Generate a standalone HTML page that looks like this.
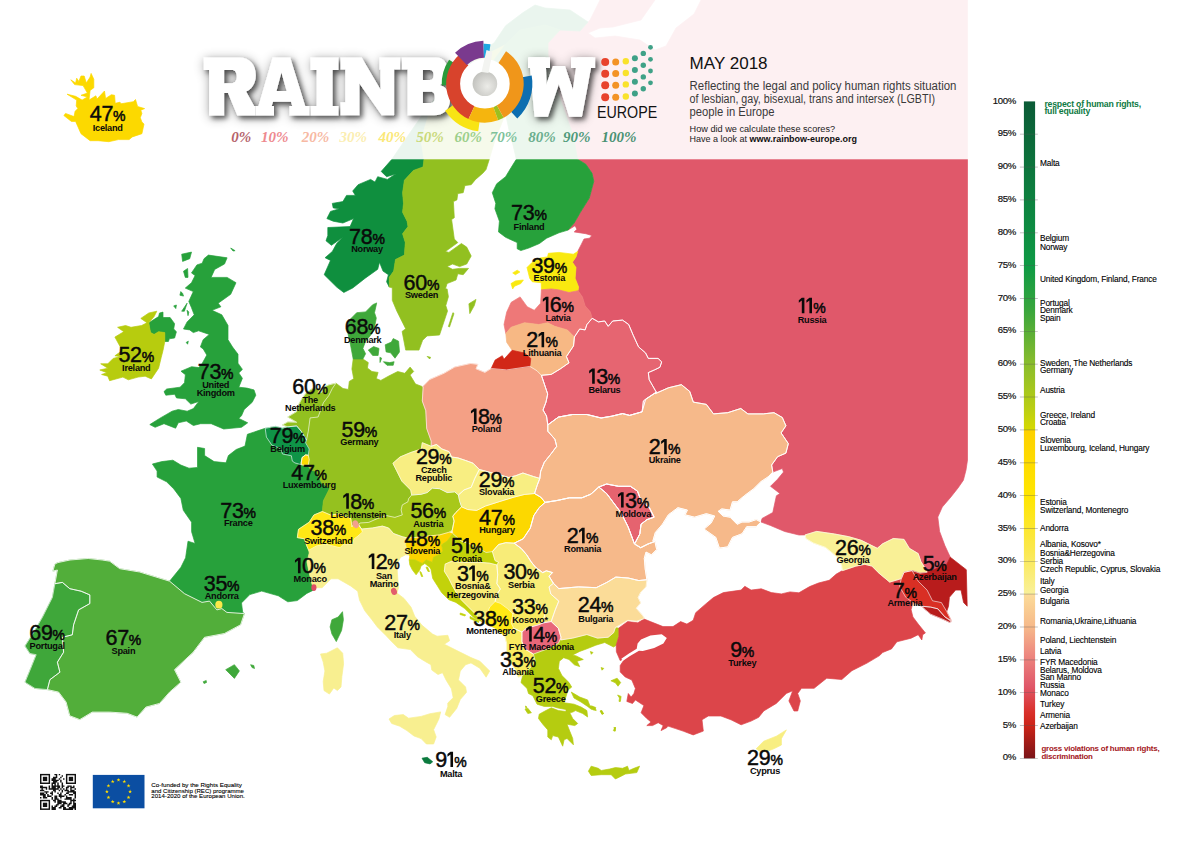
<!DOCTYPE html>
<html><head><meta charset="utf-8"><title>Rainbow Europe Map May 2018</title>
<style>
html,body{margin:0;padding:0;background:#fff}
body{width:1191px;height:842px;overflow:hidden;position:relative;font-family:"Liberation Sans",sans-serif}
svg{position:absolute;left:0;top:0;display:block}
text{font-family:"Liberation Sans",sans-serif}
.num{font-size:21.5px;fill:#0a0a0a;letter-spacing:-0.4px;stroke:#0a0a0a;stroke-width:0.45px}
.pc{font-size:14px;letter-spacing:0;stroke-width:0.5px}
.nm{font-size:9.2px;font-weight:bold;fill:#0a0a0a;letter-spacing:-0.25px}
.tk{font-size:9.6px;fill:#111;letter-spacing:-0.3px;stroke:#111;stroke-width:0.2px}
.ln{font-size:8.3px;fill:#000;letter-spacing:-0.15px;stroke:#000;stroke-width:0.12px}
.lb{font-size:7.9px;font-weight:bold;letter-spacing:-0.2px}
.sc{font-family:"Liberation Serif",serif;font-style:italic;font-weight:bold;font-size:15px}
.logo{font-family:"Liberation Serif",serif;font-weight:bold;font-size:86px;fill:#fff;stroke:#fff;stroke-width:3px;stroke-linejoin:round}
</style></head><body>
<svg width="1191" height="842" viewBox="0 0 1191 842">
<defs>
<linearGradient id="lg" x1="0" y1="0" x2="0" y2="1">
<stop offset="0" stop-color="#0b5a36"/><stop offset="0.12" stop-color="#0d7a3e"/><stop offset="0.25" stop-color="#0e9a45"/><stop offset="0.32" stop-color="#3ba63c"/><stop offset="0.40" stop-color="#8abd2c"/><stop offset="0.47" stop-color="#bccf12"/><stop offset="0.4999" stop-color="#d6d900"/>
<stop offset="0.5" stop-color="#fdd100"/><stop offset="0.6" stop-color="#ffe600"/><stop offset="0.68" stop-color="#fbe84a"/><stop offset="0.7499" stop-color="#f9f09a"/>
<stop offset="0.75" stop-color="#fcdc98"/><stop offset="0.80" stop-color="#f6b98a"/><stop offset="0.84" stop-color="#ee8a80"/><stop offset="0.89" stop-color="#e0586a"/><stop offset="0.93" stop-color="#d9302a"/><stop offset="0.95" stop-color="#cc2418"/><stop offset="1" stop-color="#7a1418"/>
</linearGradient>
<filter id="sh" x="-10%" y="-30%" width="120%" height="170%"><feGaussianBlur in="SourceAlpha" stdDeviation="6"/><feOffset dx="1" dy="1.5"/><feComponentTransfer result="a"><feFuncA type="linear" slope="0.4"/></feComponentTransfer><feGaussianBlur in="SourceAlpha" stdDeviation="2.6"/><feOffset dx="3" dy="3.2"/><feComponentTransfer result="b"><feFuncA type="linear" slope="0.55"/></feComponentTransfer><feMerge><feMergeNode in="a"/><feMergeNode in="b"/><feMergeNode in="SourceGraphic"/></feMerge></filter>
<radialGradient id="hole" cx="0.6" cy="0.6" r="0.7"><stop offset="0" stop-color="#ecece8"/><stop offset="1" stop-color="#bdbdb9"/></radialGradient>
<filter id="sh2" x="-30%" y="-30%" width="160%" height="160%"><feGaussianBlur stdDeviation="2.5"/></filter>
</defs>
<g id="map">
<polygon points="577.7,159.3 585.8,164.2 592.0,173.2 593.8,181.2 589.3,198.1 580.4,212.3 574.2,223.0 568.0,230.1 575.1,225.7 576.9,229.3 574.2,231.9 585.8,233.7 592.0,235.5 589.3,238.2 584.0,239.0 581.3,244.4 577.7,251.5 576.0,256.9 572.4,262.2 576.0,267.5 575.1,278.2 578.6,287.1 578.0,290.7 582.4,296.9 585.1,305.8 590.4,312.1 592.2,318.3 598.4,321.9 604.7,321.0 608.2,326.3 612.7,321.0 622.5,320.1 628.7,324.5 633.2,335.2 638.5,346.8 645.6,353.0 648.3,358.4 658.1,358.4 661.7,361.9 659.9,367.3 654.5,369.9 648.3,372.6 649.2,379.7 656.3,392.2 668.4,387.8 681.4,384.7 689.7,391.4 693.3,402.1 706.3,404.4 713.5,413.9 727.7,412.7 740.8,408.5 747.9,413.9 763.3,413.9 774.0,412.7 782.3,417.5 785.9,425.8 781.1,432.9 788.3,443.6 785.9,453.1 777.6,456.7 771.6,465.0 772.8,472.1 782.3,468.5 783.5,472.1 777.6,479.2 770.5,486.3 779.9,493.5 776.4,495.8 772.8,512.5 762.1,518.4 761.0,522.0 770.5,525.5 784.7,531.5 799.0,535.0 805.1,534.9 816.7,531.4 834.5,534.0 848.8,536.7 861.2,540.3 877.3,548.3 882.6,543.8 893.3,538.5 904.0,539.4 909.3,548.3 918.2,553.6 920.9,561.6 925.4,568.8 927.1,572.3 946.7,564.3 950.3,557.2 944.9,545.6 939.6,531.4 937.8,517.1 942.3,507.0 950.9,497.0 958.0,488.0 963.4,480.2 966.0,470.0 967.5,460.0 967.5,0.0 701.0,0.0 694.0,14.0 676.0,28.0 666.0,46.0 655.0,50.0 640.0,40.0 615.0,36.0 595.0,38.0 588.0,33.0 600.0,28.0 613.0,27.0 641.0,20.0 655.0,0.0 600.0,0.0 590.0,20.0 580.0,31.0 560.0,30.0 548.0,43.0 548.0,55.0 551.3,71.4 557.0,90.0 565.6,114.2 573.0,135.0" fill="#e0586a" stroke="#e0586a" stroke-width="0.7" stroke-linejoin="round"/>
<polygon points="391.9,159.3 381.2,171.4 386.6,176.7 395.5,174.0 387.5,179.4 377.7,176.7 375.0,182.1 370.6,179.4 358.1,184.7 352.7,191.0 355.4,195.4 346.5,195.4 342.9,201.6 332.3,203.4 333.2,207.9 339.4,208.8 330.5,211.4 326.9,218.6 333.2,221.2 342.9,223.0 353.6,218.6 350.1,226.6 327.8,227.5 327.8,235.5 326.0,240.8 331.4,245.3 342.9,237.3 336.7,243.5 332.3,251.5 325.1,257.7 330.5,260.4 324.2,274.7 336.7,287.1 343.8,292.5 352.7,288.0 365.2,278.2 377.7,269.3 379.5,262.2 383.0,271.1 388.4,274.7 386.6,281.8 389.3,287.1 389.3,277.3 393.7,271.1 395.5,259.5 404.4,255.1 405.3,242.6 402.6,233.7 408.0,226.6 407.1,221.2 402.6,212.3 403.5,203.4 402.6,192.7 404.4,180.3 413.3,170.5 423.1,166.9 424.0,159.3 421.0,140.0 430.0,110.0 450.0,85.0 475.0,60.0 505.0,45.0 520.0,30.0 545.0,25.0 560.0,30.0 580.0,31.0 588.0,22.0 570.0,10.0 545.0,8.0 535.0,5.0 522.7,12.8 505.6,25.7 494.2,42.8 470.0,60.0 445.0,85.0 422.8,114.2 405.0,140.0" fill="#0f8f3e" stroke="#0f8f3e" stroke-width="0.7" stroke-linejoin="round"/>
<polygon points="424.0,159.3 423.1,166.9 413.3,170.5 404.4,180.3 402.6,192.7 403.5,203.4 402.6,212.3 407.1,221.2 408.0,226.6 402.6,233.7 405.3,242.6 404.4,255.1 395.5,259.5 393.7,271.1 389.3,277.3 389.3,287.1 392.3,287.8 392.3,300.3 396.8,311.0 403.0,323.4 405.7,328.8 402.1,331.4 405.7,350.1 419.0,350.1 422.6,340.3 427.1,335.9 439.5,335.0 447.5,311.0 445.8,305.6 448.4,296.7 447.1,288.9 445.4,288.9 447.1,283.6 456.0,280.0 457.8,273.8 463.2,274.7 468.5,268.4 459.6,268.4 452.5,269.3 447.1,266.6 452.5,264.0 459.6,266.6 466.7,264.0 471.2,256.0 466.7,247.1 461.4,243.5 448.9,252.4 445.4,251.5 457.8,242.6 454.3,239.0 451.6,219.5 454.3,217.7 453.4,201.6 456.9,199.9 457.8,193.6 463.2,192.7 464.9,185.6 471.2,184.7 475.6,179.4 482.8,173.2 486.0,169.6 489.3,159.3 495.0,140.0 503.0,120.0 505.6,114.2 500.0,95.0 490.0,80.0 494.0,60.0 505.0,45.0 475.0,60.0 450.0,85.0 430.0,110.0 421.0,140.0" fill="#92c020" stroke="#92c020" stroke-width="0.7" stroke-linejoin="round"/>
<polygon points="516.3,159.3 511.0,167.8 505.6,176.7 496.7,183.8 492.3,192.7 495.8,203.4 494.9,208.8 499.4,221.2 498.5,231.9 505.6,237.3 517.2,242.6 517.2,248.8 520.8,250.6 528.8,248.0 539.5,243.5 546.6,238.2 559.0,232.8 568.0,230.1 574.2,223.0 580.4,212.3 589.3,198.1 593.8,181.2 592.0,173.2 585.8,164.2 577.7,159.3 573.0,135.0 565.6,114.2 557.0,90.0 551.3,71.4 548.0,55.0 548.0,43.0 560.0,30.0 545.0,25.0 520.0,30.0 505.0,45.0 494.0,60.0 490.0,80.0 500.0,95.0 505.6,114.2 509.0,130.0 513.0,145.0" fill="#27a13b" stroke="#27a13b" stroke-width="0.7" stroke-linejoin="round"/>
<polygon points="452.9,312.7 454.0,313.5 449.5,327.0 448.4,326.5" fill="#92c020" stroke="#92c020" stroke-width="0.7" stroke-linejoin="round"/>
<polygon points="468.9,303.8 476.0,299.4 474.3,305.6 469.8,313.6" fill="#92c020" stroke="#92c020" stroke-width="0.7" stroke-linejoin="round"/>
<polygon points="427.1,356.4 430.6,357.3 429.7,359.0" fill="#92c020" stroke="#92c020" stroke-width="0.7" stroke-linejoin="round"/>
<polygon points="67.1,94.2 75.6,96.3 82.1,100.1 87.4,96.9 81.0,95.3 87.4,93.1 83.1,85.6 74.6,84.6 70.8,79.8 75.6,83.0 76.7,78.2 78.8,81.4 81.0,76.0 84.2,76.0 86.3,83.0 90.1,77.1 91.1,73.4 93.8,79.2 93.8,87.8 90.1,90.4 89.0,100.1 95.9,95.8 97.0,99.0 104.5,91.0 105.6,98.5 111.4,94.7 114.6,95.3 115.2,103.3 120.0,102.2 121.0,103.8 133.3,101.7 135.5,99.5 137.6,106.5 144.6,108.6 140.8,110.2 141.9,113.4 140.3,117.7 141.9,122.0 144.0,124.1 141.9,133.7 132.3,136.9 129.1,139.6 118.4,139.6 108.8,141.7 98.1,140.7 90.1,140.7 81.0,133.7 75.6,121.4 71.4,121.4 63.9,115.6 65.5,113.4 74.0,116.6 75.1,111.3 77.8,108.6 76.2,105.9 76.7,100.1" fill="#fcd900" stroke="#fcd900" stroke-width="0.7" stroke-linejoin="round"/>
<polygon points="208.4,255.1 227.1,257.8 224.5,264.0 214.7,269.4 211.1,277.4 227.1,277.4 236.0,282.7 230.7,294.3 218.2,303.2 220.9,306.8 212.0,310.3 221.8,314.8 228.0,325.5 228.0,339.7 232.6,347.1 238.0,354.2 238.0,363.2 242.4,369.4 238.8,372.9 242.4,378.3 238.8,387.2 246.9,388.1 254.0,389.9 255.8,395.2 252.2,402.3 244.2,409.5 241.5,415.7 238.8,418.4 247.7,422.8 241.5,427.3 223.7,429.0 211.2,423.7 200.6,423.7 193.4,425.5 186.3,421.0 178.3,422.8 175.6,428.2 164.0,423.7 155.1,427.3 149.8,424.6 159.6,418.4 172.1,411.2 178.3,409.5 187.2,411.2 193.4,408.6 198.8,401.4 190.8,404.1 185.4,398.8 176.5,397.9 174.7,394.3 165.8,395.2 164.0,391.6 166.7,389.0 180.1,387.2 184.5,382.7 185.4,374.7 181.0,371.2 191.6,366.7 198.8,367.6 202.3,363.2 206.8,355.1 203.2,348.9 200.4,346.9 203.1,339.7 209.3,334.4 198.6,330.8 193.3,332.6 189.7,329.9 183.5,329.0 187.1,321.9 194.2,314.8 191.5,307.7 188.8,301.4 193.3,291.6 185.3,288.1 191.5,282.7 195.1,275.6 191.5,272.9 196.9,264.9 202.2,263.2 204.0,258.7" fill="#27a13b" stroke="#27a13b" stroke-width="0.7" stroke-linejoin="round"/>
<polygon points="148.8,322.8 158.6,316.6 159.5,313.0 163.0,312.1 163.0,317.5 170.1,317.5 174.6,323.7 173.7,329.0 176.4,331.7 174.6,338.0 169.3,338.8 168.4,341.5 164.8,341.5 164.8,332.6 158.6,331.7 154.1,334.4 150.6,332.6 149.7,328.2" fill="#27a13b" stroke="#27a13b" stroke-width="0.7" stroke-linejoin="round"/>
<polygon points="181.7,254.2 191.5,252.1 189.7,258.7 182.6,261.4" fill="#27a13b" stroke="#27a13b" stroke-width="0.7" stroke-linejoin="round"/>
<polygon points="183.5,271.2 187.6,268.5 188.0,277.4 185.3,277.4" fill="#27a13b" stroke="#27a13b" stroke-width="0.7" stroke-linejoin="round"/>
<polygon points="180.8,291.6 182.6,293.4 183.5,296.1 179.9,295.2" fill="#27a13b" stroke="#27a13b" stroke-width="0.7" stroke-linejoin="round"/>
<polygon points="173.7,305.9 176.4,305.0 175.8,308.6" fill="#27a13b" stroke="#27a13b" stroke-width="0.7" stroke-linejoin="round"/>
<polygon points="181.7,311.2 187.1,303.2 184.4,311.2" fill="#27a13b" stroke="#27a13b" stroke-width="0.7" stroke-linejoin="round"/>
<polygon points="187.1,310.3 188.8,312.1 188.0,315.7" fill="#27a13b" stroke="#27a13b" stroke-width="0.7" stroke-linejoin="round"/>
<polygon points="230.7,248.0 235.1,250.7 233.0,251.0" fill="#27a13b" stroke="#27a13b" stroke-width="0.7" stroke-linejoin="round"/>
<polygon points="186.2,342.4 188.3,341.2 187.6,344.2" fill="#27a13b" stroke="#27a13b" stroke-width="0.7" stroke-linejoin="round"/>
<polygon points="140.8,318.4 148.8,313.0 156.8,311.2 154.1,316.6 148.8,322.8 149.7,328.2 150.6,332.6 154.1,334.4 158.6,331.7 164.8,332.6 164.8,341.5 163.0,350.4 161.2,357.5 158.6,368.2 151.4,378.9 145.2,376.2 138.1,377.1 128.3,379.8 122.9,377.1 109.6,380.7 107.8,376.2 101.6,374.5 106.9,372.7 99.8,370.0 107.8,368.2 100.7,363.8 107.8,363.8 113.2,358.4 120.3,356.6 114.9,355.8 121.2,351.3 120.3,346.9 114.9,337.1 123.8,331.7 117.6,327.3 125.6,325.5 131.0,327.3 141.6,325.5 147.0,322.8" fill="#b7cc0e" stroke="#b7cc0e" stroke-width="0.7" stroke-linejoin="round"/>
<polygon points="152.4,464.0 161.9,461.6 172.9,460.2 180.9,465.1 189.0,468.2 197.5,467.5 197.5,447.3 204.6,448.5 204.6,455.6 214.1,461.6 226.0,462.8 228.4,455.6 236.2,449.5 245.0,446.1 247.4,434.3 265.2,428.3 266.4,434.3 266.4,437.1 271.8,445.1 280.7,448.6 282.5,454.0 291.4,455.8 292.3,461.1 294.9,462.9 301.2,464.7 306.8,465.1 311.0,470.4 316.3,471.1 321.6,482.9 329.7,488.2 327.9,491.8 323.4,500.7 322.3,511.5 313.9,515.0 309.2,522.2 298.5,529.3 297.3,537.6 304.4,538.8 306.8,545.9 308.7,550.3 309.2,553.0 307.0,562.0 309.0,572.0 311.4,582.3 313.2,587.7 313.9,589.9 306.8,593.4 297.3,600.6 287.8,601.8 278.3,595.8 261.7,591.1 249.8,594.6 241.5,602.9 242.7,612.4 244.4,613.6 226.9,612.4 221.9,608.6 216.9,609.9 209.5,601.1 202.0,602.4 184.5,593.7 169.6,581.2 180.9,567.3 185.6,557.8 188.0,541.2 195.1,543.5 191.6,531.7 191.6,522.2 183.3,510.3 180.9,498.4 173.8,488.9 166.6,481.8 157.1,477.0 157.1,471.1" fill="#27a13b" stroke="#27a13b" stroke-width="0.7" stroke-linejoin="round"/>
<polygon points="342.5,611.7 343.4,619.7 341.6,630.4 336.3,641.6 331.9,634.0 330.1,626.9 331.9,619.7 338.1,617.1" fill="#3fa83a" stroke="#3fa83a" stroke-width="0.7" stroke-linejoin="round"/>
<polygon points="57.9,562.6 70.0,560.0 88.2,558.5 102.2,560.0 109.7,561.2 119.7,568.7 139.6,572.0 169.6,581.2 184.5,593.7 202.0,602.4 209.5,601.1 216.9,609.9 221.9,608.6 226.9,612.4 244.4,613.6 240.6,624.8 224.4,633.5 204.5,637.3 193.2,652.2 174.5,669.7 180.8,682.2 169.6,692.1 159.6,703.4 145.9,707.1 137.1,717.1 127.2,713.3 109.7,712.1 92.3,712.1 79.8,719.6 69.8,715.8 66.1,702.1 58.6,692.1 47.4,689.6 49.9,679.7 59.9,672.2 57.4,662.2 63.6,652.2 62.4,637.3 72.3,634.8 73.6,624.8 78.6,609.9 89.8,603.6 89.8,594.9 81.1,591.2 69.8,588.7 62.4,582.4 54.9,583.7 57.4,570.0 52.9,571.1 54.9,564.0" fill="#52ae3a" stroke="#52ae3a" stroke-width="0.7" stroke-linejoin="round"/>
<polygon points="54.9,583.7 62.4,582.4 69.8,588.7 81.1,591.2 89.8,594.9 89.8,603.6 78.6,609.9 73.6,624.8 72.3,634.8 62.4,637.3 63.6,652.2 57.4,662.2 59.9,672.2 49.9,679.7 47.4,689.6 34.9,688.4 25.0,682.2 31.2,667.2 36.2,654.7 29.9,653.5 25.0,646.0 33.7,632.3 42.4,617.3 52.4,597.4" fill="#3fa73a" stroke="#3fa73a" stroke-width="0.7" stroke-linejoin="round"/>
<polygon points="225.7,669.7 234.4,664.7 239.4,670.9 234.4,678.4" fill="#3fa83a" stroke="#3fa83a" stroke-width="0.7" stroke-linejoin="round"/>
<polygon points="250.6,664.7 253.8,665.5 254.5,668.5 252.0,667.5" fill="#3fa83a" stroke="#3fa83a" stroke-width="0.7" stroke-linejoin="round"/>
<polygon points="203.2,681.7 206.2,680.5 206.5,682.5 204.0,683.5" fill="#3fa83a" stroke="#3fa83a" stroke-width="0.7" stroke-linejoin="round"/>
<polygon points="335.9,383.2 343.0,388.5 348.4,389.4 349.3,381.4 353.7,378.7 351.9,368.9 353.2,359.0 362.9,359.0 368.3,362.6 367.4,368.0 371.9,371.5 378.1,372.4 376.3,378.6 380.8,380.4 388.8,376.0 397.7,371.5 404.8,373.3 410.1,367.1 413.7,371.5 410.1,375.1 415.5,384.0 422.6,386.7 423.2,386.7 422.3,401.0 425.8,410.7 426.7,428.5 431.2,441.0 431.2,446.3 422.3,442.7 421.4,449.0 410.7,452.5 400.0,457.0 392.9,463.3 396.5,470.4 401.8,481.1 410.7,490.0 412.5,495.3 408.6,498.7 407.9,501.8 402.3,504.9 401.1,509.9 402.3,514.9 394.9,517.4 386.1,515.5 377.4,518.6 368.7,522.4 359.9,523.0 358.7,524.9 354.3,523.0 351.9,526.9 350.8,518.6 340.1,513.8 330.6,515.0 322.3,511.5 323.4,500.7 327.9,491.8 329.7,488.2 321.6,482.9 316.3,471.1 311.0,470.4 308.3,465.1 309.2,459.7 308.3,455.3 309.2,449.0 305.6,442.8 306.5,440.1 308.3,431.2 310.1,417.9 318.1,417.0 323.4,402.7 328.8,395.6 332.3,388.5" fill="#95c11f" stroke="#95c11f" stroke-width="0.7" stroke-linejoin="round"/>
<polygon points="282.5,425.0 287.8,422.0 296.7,422.3 287.8,417.0 296.7,411.6 299.0,404.0 302.1,398.3 307.0,392.0 312.7,388.5 320.0,389.0 318.0,393.0 322.0,392.0 324.0,387.0 328.8,384.9 335.9,383.2 332.3,388.5 328.8,395.6 323.4,402.7 318.1,417.0 310.1,417.9 308.3,431.2 306.5,440.1 301.2,431.2 296.7,425.9 287.8,426.8" fill="#92c020" stroke="#92c020" stroke-width="0.7" stroke-linejoin="round"/>
<polygon points="265.2,428.3 275.4,426.4 282.5,428.2 287.8,426.8 296.7,425.9 301.2,431.2 306.5,440.1 305.6,442.8 309.2,449.0 308.3,455.3 305.6,454.9 302.1,457.5 301.2,462.9 301.2,464.7 294.9,462.9 292.3,461.1 291.4,455.8 282.5,454.0 280.7,448.6 271.8,445.1 266.4,437.1" fill="#0f9447" stroke="#0f9447" stroke-width="0.7" stroke-linejoin="round"/>
<polygon points="302.1,457.5 305.6,454.9 308.3,455.3 309.2,459.7 308.3,465.1 304.7,465.3 301.2,464.7 301.2,462.9" fill="#fcd900" stroke="#fcd900" stroke-width="0.7" stroke-linejoin="round"/>
<polygon points="376.7,302.9 374.5,312.7 376.3,318.1 374.0,330.0 370.0,336.0 365.6,341.2 362.9,348.4 365.6,353.7 362.9,359.0 353.2,359.0 350.5,344.8 346.9,328.8 349.6,319.9 356.7,312.7 365.6,311.9 372.7,304.7" fill="#3fa83a" stroke="#3fa83a" stroke-width="0.7" stroke-linejoin="round"/>
<polygon points="368.3,350.1 373.6,346.6 379.0,348.4 378.1,355.5 372.7,355.5" fill="#3fa83a" stroke="#3fa83a" stroke-width="0.7" stroke-linejoin="round"/>
<polygon points="385.2,344.8 391.4,342.1 393.2,338.6 398.6,341.2 399.5,351.9 395.0,358.2 390.6,352.8 386.1,351.9" fill="#3fa83a" stroke="#3fa83a" stroke-width="0.7" stroke-linejoin="round"/>
<polygon points="383.4,361.7 389.7,362.6 394.1,361.7 393.2,365.3 387.0,365.3" fill="#3fa83a" stroke="#3fa83a" stroke-width="0.7" stroke-linejoin="round"/>
<polygon points="379.9,357.3 381.7,358.2 380.0,362.5" fill="#3fa83a" stroke="#3fa83a" stroke-width="0.7" stroke-linejoin="round"/>
<polygon points="422.6,386.7 429.7,379.5 444.0,373.3 454.7,367.1 470.7,363.5 477.8,364.4 476.0,368.8 484.9,372.4 491.2,368.5 506.7,369.9 529.9,366.4 537.0,370.8 541.4,375.3 547.7,394.0 546.0,402.0 543.0,410.0 546.5,416.0 547.8,424.9 547.8,431.2 554.9,439.2 556.7,446.3 551.4,453.4 544.3,462.3 540.7,471.2 539.8,478.4 533.6,476.6 522.9,473.0 515.8,475.7 508.6,477.5 499.7,474.8 489.0,472.1 479.3,469.5 473.0,463.2 465.9,460.6 457.9,457.9 451.6,457.0 449.0,451.6 441.9,449.0 436.5,444.5 431.2,446.3 431.2,441.0 426.7,428.5 425.8,410.7 422.3,401.0 423.2,386.7" fill="#f4a085" stroke="#f4a085" stroke-width="0.7" stroke-linejoin="round"/>
<polygon points="431.2,446.3 436.5,444.5 441.9,449.0 449.0,451.6 451.6,457.0 457.9,457.9 465.9,460.6 473.0,463.2 479.3,469.5 474.8,478.4 471.2,487.3 464.1,489.9 458.4,495.0 454.7,491.8 447.2,492.5 439.7,488.7 432.3,488.1 427.3,492.5 421.0,494.3 411.7,495.0 410.7,490.0 401.8,481.1 396.5,470.4 392.9,463.3 400.0,457.0 410.7,452.5 421.4,449.0 422.3,442.7" fill="#f8ee82" stroke="#f8ee82" stroke-width="0.7" stroke-linejoin="round"/>
<polygon points="479.3,469.5 489.0,472.1 499.7,474.8 508.6,477.5 515.8,475.7 522.9,473.0 533.6,476.6 539.8,478.4 537.1,485.5 534.5,493.5 524.7,494.4 514.0,497.1 499.7,501.5 485.5,506.0 476.6,510.4 467.7,509.5 461.6,506.8 459.7,501.2 458.4,495.0 464.1,489.9 471.2,487.3 474.8,478.4" fill="#f8ee82" stroke="#f8ee82" stroke-width="0.7" stroke-linejoin="round"/>
<polygon points="411.7,495.0 408.6,498.7 407.9,501.8 402.3,504.9 401.1,509.9 402.3,514.9 394.9,517.4 386.1,515.5 377.4,518.6 368.7,522.4 359.9,523.0 358.7,524.9 361.0,528.4 363.0,528.9 372.4,528.0 382.4,526.1 388.6,528.0 393.6,533.6 402.3,536.7 407.3,538.0 415.0,537.5 427.3,536.1 439.7,534.9 448.5,532.4 452.2,530.5 454.1,521.1 452.8,516.2 455.9,512.4 461.6,506.8 459.7,501.2 458.4,495.0 454.7,491.8 447.2,492.5 439.7,488.7 432.3,488.1 427.3,492.5 421.0,494.3" fill="#a8c81a" stroke="#a8c81a" stroke-width="0.7" stroke-linejoin="round"/>
<polygon points="461.6,506.8 467.7,509.5 476.6,510.4 485.5,506.0 499.7,501.5 514.0,497.1 524.7,494.4 534.5,493.5 540.7,497.1 545.1,502.4 539.2,507.6 533.8,515.6 530.3,528.1 523.2,538.8 514.2,543.2 505.8,542.7 498.6,544.5 492.4,551.6 486.2,552.5 478.0,548.0 470.0,544.0 461.2,541.0 452.8,533.6 452.2,530.5 454.1,521.1 452.8,516.2 455.9,512.4" fill="#fcd800" stroke="#fcd800" stroke-width="0.7" stroke-linejoin="round"/>
<polygon points="308.7,550.3 316.5,546.0 325.7,544.2 340.0,547.8 343.5,544.2 351.9,544.7 354.3,538.8 358.0,536.0 362.5,532.0 363.0,528.9 372.4,528.0 382.4,526.1 388.6,528.0 393.6,533.6 402.3,536.7 407.3,538.0 406.1,544.8 407.9,549.8 409.8,556.1 411.1,555.6 405.8,554.7 400.4,557.4 396.9,564.5 397.5,575.0 398.6,587.7 396.9,593.0 404.0,598.4 411.1,607.3 414.7,616.2 421.8,625.1 432.5,634.0 437.1,636.2 447.8,635.3 449.6,640.7 444.3,644.2 454.9,649.6 471.0,657.6 479.9,661.2 489.7,671.0 486.1,677.2 479.9,668.3 471.0,662.9 465.6,664.7 460.3,671.0 458.5,679.9 465.6,687.0 466.5,692.3 460.3,699.5 456.7,708.4 449.6,717.3 445.1,714.6 447.8,706.6 447.8,703.0 453.2,697.7 451.4,688.8 446.0,679.9 442.5,672.7 438.0,674.5 431.8,670.1 430.9,664.7 424.7,661.2 417.5,656.7 410.4,649.6 397.9,647.8 390.8,640.7 386.2,635.8 377.3,626.9 371.9,619.7 364.8,610.8 359.5,600.1 357.7,591.2 350.6,585.9 338.1,578.8 331.0,578.8 322.1,587.7 313.2,587.7 311.4,582.3 309.0,572.0 307.0,562.0 309.2,553.0" fill="#f8ef90" stroke="#f8ef90" stroke-width="0.7" stroke-linejoin="round"/>
<polygon points="389.0,719.0 394.4,715.5 403.3,714.6 408.6,718.2 421.1,716.4 430.0,713.7 440.7,711.9 438.9,719.0 433.6,729.7 436.2,736.9 433.6,744.0 426.4,744.0 421.1,738.6 414.0,736.0 406.9,730.6 399.7,726.2 391.7,723.5" fill="#f8ef90" stroke="#f8ef90" stroke-width="0.7" stroke-linejoin="round"/>
<polygon points="320.5,654.0 326.7,653.2 337.4,647.8 342.7,653.2 343.6,663.8 341.9,676.3 341.0,687.0 337.4,690.6 333.8,687.9 329.4,694.1 324.0,690.6 323.2,681.6 324.9,671.0 323.2,662.1" fill="#f8ef90" stroke="#f8ef90" stroke-width="0.7" stroke-linejoin="round"/>
<polygon points="322.3,511.5 313.9,515.0 309.2,522.2 298.5,529.3 297.3,537.6 304.4,538.8 306.8,545.9 308.7,550.3 316.5,546.0 325.7,544.2 340.0,547.8 343.5,544.2 351.9,544.7 354.3,538.8 358.0,536.0 362.5,532.0 361.0,528.4 358.7,524.9 354.3,523.0 351.9,526.9 350.8,518.6 340.1,513.8 330.6,515.0" fill="#ffe815" stroke="#ffe815" stroke-width="0.7" stroke-linejoin="round"/>
<polygon points="407.3,538.0 415.0,537.5 427.3,536.1 439.7,534.9 448.5,532.4 452.8,533.6 447.2,541.1 441.6,544.8 442.9,551.1 438.5,554.8 433.5,557.3 432.3,562.3 426.0,559.8 422.3,563.5 414.8,559.8 409.2,559.8 409.8,556.1 407.9,549.8 406.1,544.8" fill="#fcd400" stroke="#fcd400" stroke-width="0.7" stroke-linejoin="round"/>
<polygon points="452.8,533.6 461.2,541.0 470.0,544.0 478.0,548.0 486.2,552.5 492.4,551.6 495.1,560.6 498.6,562.3 496.9,565.0 489.7,563.2 479.0,562.3 465.0,562.5 451.4,561.4 445.2,564.1 444.3,571.2 448.8,578.4 452.3,585.5 456.0,592.0 461.2,599.7 468.4,606.9 475.5,614.0 484.4,622.9 473.7,617.5 464.8,608.6 455.9,602.4 448.8,599.7 441.6,592.6 437.2,585.5 432.7,578.4 431.0,569.5 429.8,567.3 424.8,563.5 421.0,566.0 419.8,569.8 416.1,574.8 412.3,569.8 409.8,564.8 409.2,559.8 414.8,559.8 422.3,563.5 426.0,559.8 432.3,562.3 433.5,557.3 438.5,554.8 442.9,551.1 441.6,544.8 447.2,541.1" fill="#c3d20a" stroke="#c3d20a" stroke-width="0.7" stroke-linejoin="round"/>
<polygon points="419.8,571.6 421.0,572.0 422.8,576.5 421.5,576.5" fill="#c3d20a" stroke="#c3d20a" stroke-width="0.7" stroke-linejoin="round"/>
<polygon points="426.0,567.3 427.5,567.0 429.5,571.5 428.0,571.5" fill="#c3d20a" stroke="#c3d20a" stroke-width="0.7" stroke-linejoin="round"/>
<polygon points="460.3,613.0 465.5,614.8 465.0,616.0 460.0,614.5" fill="#c3d20a" stroke="#c3d20a" stroke-width="0.7" stroke-linejoin="round"/>
<polygon points="470.0,616.5 479.0,621.0 478.5,622.5 470.0,618.5" fill="#c3d20a" stroke="#c3d20a" stroke-width="0.7" stroke-linejoin="round"/>
<polygon points="445.2,564.1 451.4,561.4 465.0,562.5 479.0,562.3 489.7,563.2 496.9,565.0 497.7,574.8 496.9,583.7 500.4,589.0 496.9,594.4 495.1,601.5 489.7,606.9 486.2,615.8 484.4,622.9 475.5,614.0 468.4,606.9 461.2,599.7 456.0,592.0 452.3,585.5 448.8,578.4 444.3,571.2" fill="#f8ec78" stroke="#f8ec78" stroke-width="0.7" stroke-linejoin="round"/>
<polygon points="492.4,551.6 498.6,544.5 505.8,542.7 514.2,543.2 521.4,548.6 526.7,554.8 531.2,561.9 535.6,567.3 542.7,572.6 546.3,570.8 552.5,572.6 549.0,576.2 553.4,583.3 549.0,586.9 550.8,594.0 558.8,601.1 555.2,610.0 551.2,621.5 543.2,622.9 544.9,614.0 539.6,605.1 528.9,599.7 518.2,603.3 512.9,614.0 507.5,608.6 500.4,603.3 495.1,601.5 496.9,594.4 500.4,589.0 496.9,583.7 497.7,574.8 496.9,565.0 498.6,562.3 495.1,560.6" fill="#f8ec78" stroke="#f8ec78" stroke-width="0.7" stroke-linejoin="round"/>
<polygon points="512.9,614.0 518.2,603.3 528.9,599.7 539.6,605.1 544.9,614.0 543.2,622.9 538.8,624.7 526.3,628.3 521.9,632.0 513.8,628.3 511.1,622.9" fill="#f9ea60" stroke="#f9ea60" stroke-width="0.7" stroke-linejoin="round"/>
<polygon points="495.1,601.5 500.4,603.3 507.5,608.6 512.9,614.0 511.1,622.9 513.8,628.3 506.7,632.7 504.0,635.4 495.1,628.2 484.4,622.9 486.2,615.8 489.7,606.9" fill="#ffe815" stroke="#ffe815" stroke-width="0.7" stroke-linejoin="round"/>
<polygon points="521.9,636.3 521.9,632.0 526.3,628.3 538.8,624.7 543.2,622.9 551.2,621.5 558.4,628.3 561.0,637.2 558.4,643.4 547.7,648.8 533.4,654.1 524.5,648.8 521.9,641.6" fill="#e8677a" stroke="#e8677a" stroke-width="0.7" stroke-linejoin="round"/>
<polygon points="506.7,632.7 513.8,628.3 521.9,632.0 521.9,636.3 521.9,641.6 524.5,648.8 533.4,654.1 535.2,661.2 529.9,668.4 522.7,675.5 518.3,677.3 515.6,670.1 509.4,661.2 506.7,652.3 506.7,643.4 504.9,636.3 504.0,635.4" fill="#f9ea60" stroke="#f9ea60" stroke-width="0.7" stroke-linejoin="round"/>
<polygon points="533.4,654.1 547.7,648.8 558.4,643.4 561.0,639.9 572.6,638.1 586.9,634.5 597.5,638.1 608.2,637.2 613.6,632.7 615.4,627.4 618.9,628.3 618.9,636.3 616.2,645.2 613.6,647.0 604.7,642.5 595.8,645.2 586.9,648.8 579.7,651.4 572.6,655.0 576.2,655.9 583.3,659.5 577.1,661.2 579.7,666.6 574.4,664.8 569.0,659.5 563.7,657.7 559.3,661.2 558.4,668.4 561.9,675.5 569.0,682.6 571.7,687.1 568.0,690.0 564.1,702.8 574.1,704.2 581.2,707.1 586.9,710.6 587.6,717.0 582.7,713.5 575.5,710.6 572.7,712.1 569.8,712.8 572.7,718.5 577.7,723.5 574.8,725.6 567.0,724.2 569.8,731.3 572.7,738.4 573.4,744.8 567.0,738.4 564.1,739.8 562.7,746.2 558.4,737.0 552.7,735.6 551.3,739.8 547.8,737.0 547.8,729.9 542.8,724.2 538.5,718.5 539.2,714.2 545.0,711.0 551.3,707.8 558.4,710.6 566.0,711.5 566.0,709.5 558.0,708.0 552.7,706.4 544.2,706.4 537.1,704.2 532.8,695.7 528.5,693.5 527.1,688.5 521.0,682.6 522.7,675.5 529.9,668.4 535.2,661.2" fill="#b5cc10" stroke="#b5cc10" stroke-width="0.7" stroke-linejoin="round"/>
<polygon points="571.3,692.1 579.8,697.1 587.6,699.9 589.8,705.6 595.5,708.5 596.2,710.6 591.2,709.2 587.6,706.4 581.0,702.0 574.0,698.0" fill="#b5cc10" stroke="#b5cc10" stroke-width="0.7" stroke-linejoin="round"/>
<polygon points="525.0,709.2 527.8,708.2 531.4,712.8 527.8,713.5" fill="#b5cc10" stroke="#b5cc10" stroke-width="0.7" stroke-linejoin="round"/>
<polygon points="600.5,710.6 602.0,710.6 603.3,713.5 602.0,714.5" fill="#b5cc10" stroke="#b5cc10" stroke-width="0.7" stroke-linejoin="round"/>
<polygon points="613.3,730.6 615.4,727.0 615.1,731.3" fill="#b5cc10" stroke="#b5cc10" stroke-width="0.7" stroke-linejoin="round"/>
<polygon points="610.9,680.8 617.1,678.2 620.7,682.6 618.0,686.2 615.4,682.8" fill="#b5cc10" stroke="#b5cc10" stroke-width="0.7" stroke-linejoin="round"/>
<polygon points="617.6,695.0 621.1,696.4 620.4,701.4 619.0,701.4 619.5,698.0" fill="#b5cc10" stroke="#b5cc10" stroke-width="0.7" stroke-linejoin="round"/>
<polygon points="590.4,651.5 593.0,652.5 591.3,654.3" fill="#b5cc10" stroke="#b5cc10" stroke-width="0.7" stroke-linejoin="round"/>
<polygon points="601.1,667.5 603.8,668.4 602.0,670.2" fill="#b5cc10" stroke="#b5cc10" stroke-width="0.7" stroke-linejoin="round"/>
<polygon points="591.3,705.8 595.8,707.5 594.0,710.2" fill="#b5cc10" stroke="#b5cc10" stroke-width="0.7" stroke-linejoin="round"/>
<polygon points="588.4,771.2 591.2,766.2 598.3,768.3 601.2,770.5 609.7,769.0 615.4,767.6 622.6,768.3 627.5,766.2 629.0,770.5 633.9,768.3 639.6,766.2 636.8,772.6 631.1,773.3 625.4,774.0 619.7,776.9 615.4,779.0 611.2,774.7 601.2,774.7 591.2,775.5" fill="#b5cc10" stroke="#b5cc10" stroke-width="0.7" stroke-linejoin="round"/>
<polygon points="525.4,706.0 527.0,707.0 526.0,708.5" fill="#b5cc10" stroke="#b5cc10" stroke-width="0.7" stroke-linejoin="round"/>
<polygon points="600.0,711.0 603.8,713.5 602.0,714.0" fill="#b5cc10" stroke="#b5cc10" stroke-width="0.7" stroke-linejoin="round"/>
<polygon points="613.9,727.4 615.5,727.8 615.0,731.0" fill="#b5cc10" stroke="#b5cc10" stroke-width="0.7" stroke-linejoin="round"/>
<polygon points="553.4,583.3 558.8,588.6 578.4,586.9 596.2,587.7 606.9,582.4 615.8,577.1 628.2,578.0 638.9,580.6 646.9,579.7 646.0,586.9 640.7,592.2 638.0,597.5 640.7,602.9 636.2,608.2 642.5,615.4 644.5,618.5 636.7,621.2 627.8,620.3 618.9,625.6 615.4,627.4 613.6,632.7 608.2,637.2 597.5,638.1 586.9,634.5 572.6,638.1 561.0,639.9 561.0,637.2 558.4,628.3 551.2,621.5 555.2,610.0 558.8,601.1 550.8,594.0 549.0,586.9" fill="#fbdc98" stroke="#fbdc98" stroke-width="0.7" stroke-linejoin="round"/>
<polygon points="545.1,502.4 557.0,500.5 569.5,497.8 581.9,497.8 590.8,494.2 598.8,487.0 606.6,493.5 613.7,503.0 620.9,512.5 628.0,526.7 631.6,536.2 634.5,544.0 640.7,547.7 647.8,544.1 654.9,541.4 656.7,549.5 651.4,554.8 646.0,552.1 644.3,558.4 645.2,569.0 646.9,579.7 638.9,580.6 628.2,578.0 615.8,577.1 606.9,582.4 596.2,587.7 578.4,586.9 558.8,588.6 553.4,583.3 549.0,576.2 552.5,572.6 546.3,570.8 542.7,572.6 535.6,567.3 531.2,561.9 526.7,554.8 521.4,548.6 514.2,543.2 523.2,538.8 530.3,528.1 533.8,515.6 539.2,507.6" fill="#f6b98a" stroke="#f6b98a" stroke-width="0.7" stroke-linejoin="round"/>
<polygon points="547.8,424.9 558.4,417.1 572.6,414.5 586.9,414.5 601.1,418.0 611.8,416.2 622.5,413.6 629.6,415.4 642.1,411.8 643.4,400.9 645.6,399.3 656.3,392.2 655.3,393.7 668.4,387.8 681.4,384.7 689.7,391.4 693.3,402.1 706.3,404.4 713.5,413.9 727.7,412.7 740.8,408.5 747.9,413.9 763.3,413.9 774.0,412.7 782.3,417.5 785.9,425.8 781.1,432.9 788.3,443.6 785.9,453.1 777.6,456.7 771.6,465.0 772.8,472.1 768.1,476.9 761.0,481.6 753.8,488.7 744.3,495.8 737.2,501.8 732.5,501.8 730.1,510.1 721.8,508.9 718.2,511.3 723.0,516.0 730.1,517.2 737.2,524.3 742.0,522.0 749.1,522.0 756.2,519.6 761.0,522.0 756.2,526.7 746.7,526.7 742.0,533.8 732.5,537.4 727.7,546.9 719.4,548.1 715.8,537.4 704.0,529.1 711.1,523.1 714.7,516.0 706.3,513.7 694.5,517.2 685.0,514.8 687.4,510.1 677.9,507.7 668.4,514.8 662.4,524.3 655.3,532.6 652.9,541.0 654.9,541.4 647.8,544.1 640.7,547.7 634.5,544.0 639.9,533.8 641.0,524.3 647.0,519.6 654.1,517.2 649.4,507.7 641.0,500.6 637.5,491.1 630.4,486.3 618.5,486.3 606.6,484.0 598.8,487.0 590.8,494.2 581.9,497.8 569.5,497.8 557.0,500.5 545.1,502.4 540.7,497.1 534.5,493.5 537.1,485.5 539.8,478.4 540.7,471.2 544.3,462.3 551.4,453.4 556.7,446.3 554.9,439.2 547.8,431.2" fill="#f6b98a" stroke="#f6b98a" stroke-width="0.7" stroke-linejoin="round"/>
<polygon points="598.8,487.0 606.6,484.0 618.5,486.3 630.4,486.3 637.5,491.1 641.0,500.6 649.4,507.7 654.1,517.2 647.0,519.6 641.0,524.3 639.9,533.8 634.5,544.0 631.6,536.2 628.0,526.7 620.9,512.5 613.7,503.0 606.6,493.5" fill="#e5636f" stroke="#e5636f" stroke-width="0.7" stroke-linejoin="round"/>
<polygon points="574.4,337.0 579.7,329.0 585.1,329.9 586.9,324.5 592.2,318.3 598.4,321.9 604.7,321.0 608.2,326.3 612.7,321.0 622.5,320.1 628.7,324.5 633.2,335.2 638.5,346.8 645.6,353.0 648.3,358.4 658.1,358.4 661.7,361.9 659.9,367.3 654.5,369.9 648.3,372.6 649.2,379.7 656.3,392.2 645.6,399.3 642.1,411.8 629.6,415.4 622.5,413.6 611.8,416.2 601.1,418.0 586.9,414.5 572.6,414.5 558.4,417.1 547.8,424.9 546.5,416.0 543.0,410.0 546.0,402.0 547.7,394.0 541.4,375.3 551.2,374.4 560.1,369.0 569.0,362.8 566.4,356.6 573.5,345.9" fill="#e66571" stroke="#e66571" stroke-width="0.7" stroke-linejoin="round"/>
<polygon points="577.7,251.5 573.3,254.2 559.0,252.4 548.4,253.3 547.5,256.9 540.0,258.0 532.3,262.2 527.0,267.5 529.7,278.2 532.3,281.8 541.2,282.7 541.4,289.8 551.2,288.9 558.4,289.8 569.0,292.5 578.0,290.7 578.6,287.1 575.1,278.2 576.0,267.5 572.4,262.2 576.0,256.9" fill="#f9e910" stroke="#f9e910" stroke-width="0.7" stroke-linejoin="round"/>
<polygon points="512.7,272.9 517.2,270.2 519.9,272.0 515.4,274.7" fill="#f9e910" stroke="#f9e910" stroke-width="0.7" stroke-linejoin="round"/>
<polygon points="511.0,283.6 515.4,280.9 523.4,280.0 520.8,283.6 514.5,286.2 512.7,288.9" fill="#f9e910" stroke="#f9e910" stroke-width="0.7" stroke-linejoin="round"/>
<polygon points="541.4,289.8 540.6,303.2 534.3,310.3 527.2,306.7 520.1,296.9 511.2,302.3 506.7,312.1 504.0,324.5 505.8,333.4 511.2,327.2 524.5,322.7 538.8,324.5 547.7,322.7 554.8,326.3 567.3,329.9 574.4,337.0 579.7,329.0 585.1,329.9 586.9,324.5 592.2,318.3 590.4,312.1 585.1,305.8 582.4,296.9 578.0,290.7 569.0,292.5 558.4,289.8 551.2,288.9" fill="#ee7878" stroke="#ee7878" stroke-width="0.7" stroke-linejoin="round"/>
<polygon points="505.8,333.4 506.7,342.3 512.1,350.3 524.5,353.0 530.8,358.4 529.9,366.4 537.0,370.8 541.4,375.3 551.2,374.4 560.1,369.0 569.0,362.8 566.4,356.6 573.5,345.9 574.4,337.0 567.3,329.9 554.8,326.3 547.7,322.7 538.8,324.5 524.5,322.7 511.2,327.2" fill="#f7b884" stroke="#f7b884" stroke-width="0.7" stroke-linejoin="round"/>
<polygon points="512.1,350.3 504.0,359.2 502.3,355.7 495.1,360.1 491.2,368.5 506.7,369.9 529.9,366.4 530.8,358.4 524.5,353.0" fill="#d12717" stroke="#d12717" stroke-width="0.7" stroke-linejoin="round"/>
<polygon points="618.9,627.9 627.7,621.6 637.8,622.8 644.1,619.0 650.4,621.6 663.0,626.6 673.0,626.6 680.6,621.6 686.9,624.1 693.2,620.3 695.7,612.7 705.8,603.9 713.4,597.6 723.4,592.6 741.1,590.1 744.8,586.3 751.1,590.1 761.2,588.8 771.3,592.6 781.4,593.9 790.0,591.9 798.9,592.8 809.6,586.6 818.5,583.0 829.2,580.3 836.3,574.1 842.5,570.6 855.9,566.1 864.8,564.3 871.9,566.1 879.0,573.2 889.7,582.1 901.3,578.6 899.5,586.6 905.8,597.3 912.9,602.6 911.1,609.7 912.9,616.9 918.2,624.0 925.4,632.9 922.7,634.7 921.8,640.0 918.2,634.7 911.1,638.2 896.9,641.8 891.5,648.9 882.6,652.5 879.6,655.6 867.0,663.1 851.9,670.7 841.8,679.5 826.7,678.2 814.1,688.3 801.5,688.3 797.7,693.4 800.3,700.9 797.7,711.0 794.0,711.0 788.9,700.9 792.7,690.8 786.4,693.4 776.3,703.4 763.7,711.0 758.7,717.3 751.1,721.1 741.1,724.8 731.0,719.8 720.9,716.0 708.3,716.0 702.0,719.8 703.3,731.1 693.2,734.9 683.1,731.1 675.6,728.6 668.0,726.1 666.7,727.7 661.0,730.6 663.2,725.6 658.2,722.7 652.5,725.6 646.8,725.6 651.0,722.0 646.8,718.5 641.1,712.8 643.9,705.6 635.4,699.9 632.5,703.5 626.8,701.4 628.3,693.5 631.1,697.1 633.9,693.5 635.4,688.5 631.8,680.0 625.2,677.0 620.2,671.9 620.2,665.6 625.2,658.1 620.2,660.6 616.4,651.8 616.2,645.2 618.9,636.3" fill="#dc454a" stroke="#dc454a" stroke-width="0.7" stroke-linejoin="round"/>
<polygon points="637.6,643.4 641.0,639.5 650.4,635.4 661.7,634.3 666.8,638.0 663.4,643.4 654.2,648.0 642.8,651.0 639.0,650.8 630.0,656.0 623.0,660.8 621.3,658.8 629.0,653.5 636.7,648.8" fill="#fff"/>
<polygon points="756.2,748.8 763.7,741.2 776.3,736.2 786.4,729.9 781.4,738.7 781.4,745.0 773.8,748.8 766.2,751.8 760.0,751.5" fill="#f8ee82" stroke="#f8ee82" stroke-width="0.7" stroke-linejoin="round"/>
<polygon points="805.1,534.9 816.7,531.4 834.5,534.0 848.8,536.7 861.2,540.3 877.3,548.3 882.6,543.8 893.3,538.5 904.0,539.4 909.3,548.3 918.2,553.6 920.9,561.6 925.4,568.8 927.1,572.3 920.0,573.2 912.0,570.6 904.0,572.3 901.3,578.6 889.7,582.1 879.0,573.2 871.9,566.1 864.8,564.3 855.9,566.1 842.5,570.6 841.6,565.2 836.3,556.3 825.6,547.4 813.2,542.9 806.0,538.5" fill="#f9f096" stroke="#f9f096" stroke-width="0.7" stroke-linejoin="round"/>
<polygon points="912.0,570.6 918.2,581.2 927.1,590.1 932.5,600.8 941.4,602.6 946.7,611.5 951.2,620.4 944.9,616.9 937.8,608.8 930.7,607.1 921.8,606.2 912.9,602.6 905.8,597.3 899.5,586.6 901.3,578.6 904.0,572.3" fill="#d92f24" stroke="#d92f24" stroke-width="0.7" stroke-linejoin="round"/>
<polygon points="946.7,564.3 950.3,557.2 966.3,569.7 967.2,606.2 963.6,602.6 961.0,590.1 955.6,590.1 949.4,597.3 948.5,606.2 946.7,611.5 941.4,602.6 932.5,600.8 927.1,590.1 918.2,581.2 912.0,570.6 920.0,573.2 927.1,572.3" fill="#b81c1c" stroke="#b81c1c" stroke-width="0.7" stroke-linejoin="round"/>
<polygon points="921.8,606.2 930.7,607.1 937.8,608.8 944.9,616.9 951.2,621.5 949.4,622.3 941.4,618.6 930.7,614.2 925.4,609.7" fill="#b81c1c" stroke="#b81c1c" stroke-width="0.7" stroke-linejoin="round"/>
<polygon points="422.0,758.2 427.3,757.3 432.7,761.8 430.0,763.9 424.7,762.7" fill="#0b7a3e" stroke="#0b7a3e" stroke-width="0.7" stroke-linejoin="round"/>
<polygon points="54.9,583.7 62.4,582.4 69.8,588.7 81.1,591.2 89.8,594.9 89.8,603.6 78.6,609.9 73.6,624.8 72.3,634.8 62.4,637.3 63.6,652.2 57.4,662.2 59.9,672.2 49.9,679.7 47.4,689.6 34.9,688.4 25.0,682.2 31.2,667.2 36.2,654.7 29.9,653.5 25.0,646.0 33.7,632.3 42.4,617.3 52.4,597.4" fill="none" stroke="#fff" stroke-width="0.6" stroke-linejoin="round"/>
<polygon points="265.2,428.3 275.4,426.4 282.5,428.2 287.8,426.8 296.7,425.9 301.2,431.2 306.5,440.1 305.6,442.8 309.2,449.0 308.3,455.3 305.6,454.9 302.1,457.5 301.2,462.9 301.2,464.7 294.9,462.9 292.3,461.1 291.4,455.8 282.5,454.0 280.7,448.6 271.8,445.1 266.4,437.1" fill="none" stroke="#fff" stroke-width="0.6" stroke-linejoin="round"/>
<polygon points="282.5,425.0 287.8,422.0 296.7,422.3 287.8,417.0 296.7,411.6 299.0,404.0 302.1,398.3 307.0,392.0 312.7,388.5 320.0,389.0 318.0,393.0 322.0,392.0 324.0,387.0 328.8,384.9 335.9,383.2 332.3,388.5 328.8,395.6 323.4,402.7 318.1,417.0 310.1,417.9 308.3,431.2 306.5,440.1 301.2,431.2 296.7,425.9 287.8,426.8" fill="none" stroke="#fff" stroke-width="0.6" stroke-linejoin="round"/>
<polygon points="574.4,337.0 579.7,329.0 585.1,329.9 586.9,324.5 592.2,318.3 598.4,321.9 604.7,321.0 608.2,326.3 612.7,321.0 622.5,320.1 628.7,324.5 633.2,335.2 638.5,346.8 645.6,353.0 648.3,358.4 658.1,358.4 661.7,361.9 659.9,367.3 654.5,369.9 648.3,372.6 649.2,379.7 656.3,392.2 645.6,399.3 642.1,411.8 629.6,415.4 622.5,413.6 611.8,416.2 601.1,418.0 586.9,414.5 572.6,414.5 558.4,417.1 547.8,424.9 546.5,416.0 543.0,410.0 546.0,402.0 547.7,394.0 541.4,375.3 551.2,374.4 560.1,369.0 569.0,362.8 566.4,356.6 573.5,345.9" fill="none" stroke="#fff" stroke-width="0.6" stroke-linejoin="round"/>
<polygon points="547.8,424.9 558.4,417.1 572.6,414.5 586.9,414.5 601.1,418.0 611.8,416.2 622.5,413.6 629.6,415.4 642.1,411.8 643.4,400.9 645.6,399.3 656.3,392.2 655.3,393.7 668.4,387.8 681.4,384.7 689.7,391.4 693.3,402.1 706.3,404.4 713.5,413.9 727.7,412.7 740.8,408.5 747.9,413.9 763.3,413.9 774.0,412.7 782.3,417.5 785.9,425.8 781.1,432.9 788.3,443.6 785.9,453.1 777.6,456.7 771.6,465.0 772.8,472.1 768.1,476.9 761.0,481.6 753.8,488.7 744.3,495.8 737.2,501.8 732.5,501.8 730.1,510.1 721.8,508.9 718.2,511.3 723.0,516.0 730.1,517.2 737.2,524.3 742.0,522.0 749.1,522.0 756.2,519.6 761.0,522.0 756.2,526.7 746.7,526.7 742.0,533.8 732.5,537.4 727.7,546.9 719.4,548.1 715.8,537.4 704.0,529.1 711.1,523.1 714.7,516.0 706.3,513.7 694.5,517.2 685.0,514.8 687.4,510.1 677.9,507.7 668.4,514.8 662.4,524.3 655.3,532.6 652.9,541.0 654.9,541.4 647.8,544.1 640.7,547.7 634.5,544.0 639.9,533.8 641.0,524.3 647.0,519.6 654.1,517.2 649.4,507.7 641.0,500.6 637.5,491.1 630.4,486.3 618.5,486.3 606.6,484.0 598.8,487.0 590.8,494.2 581.9,497.8 569.5,497.8 557.0,500.5 545.1,502.4 540.7,497.1 534.5,493.5 537.1,485.5 539.8,478.4 540.7,471.2 544.3,462.3 551.4,453.4 556.7,446.3 554.9,439.2 547.8,431.2" fill="none" stroke="#fff" stroke-width="0.6" stroke-linejoin="round"/>
<polygon points="598.8,487.0 606.6,484.0 618.5,486.3 630.4,486.3 637.5,491.1 641.0,500.6 649.4,507.7 654.1,517.2 647.0,519.6 641.0,524.3 639.9,533.8 634.5,544.0 631.6,536.2 628.0,526.7 620.9,512.5 613.7,503.0 606.6,493.5" fill="none" stroke="#fff" stroke-width="0.6" stroke-linejoin="round"/>
<polygon points="545.1,502.4 557.0,500.5 569.5,497.8 581.9,497.8 590.8,494.2 598.8,487.0 606.6,493.5 613.7,503.0 620.9,512.5 628.0,526.7 631.6,536.2 634.5,544.0 640.7,547.7 647.8,544.1 654.9,541.4 656.7,549.5 651.4,554.8 646.0,552.1 644.3,558.4 645.2,569.0 646.9,579.7 638.9,580.6 628.2,578.0 615.8,577.1 606.9,582.4 596.2,587.7 578.4,586.9 558.8,588.6 553.4,583.3 549.0,576.2 552.5,572.6 546.3,570.8 542.7,572.6 535.6,567.3 531.2,561.9 526.7,554.8 521.4,548.6 514.2,543.2 523.2,538.8 530.3,528.1 533.8,515.6 539.2,507.6" fill="none" stroke="#fff" stroke-width="0.6" stroke-linejoin="round"/>
<polygon points="461.6,506.8 467.7,509.5 476.6,510.4 485.5,506.0 499.7,501.5 514.0,497.1 524.7,494.4 534.5,493.5 540.7,497.1 545.1,502.4 539.2,507.6 533.8,515.6 530.3,528.1 523.2,538.8 514.2,543.2 505.8,542.7 498.6,544.5 492.4,551.6 486.2,552.5 478.0,548.0 470.0,544.0 461.2,541.0 452.8,533.6 452.2,530.5 454.1,521.1 452.8,516.2 455.9,512.4" fill="none" stroke="#fff" stroke-width="0.6" stroke-linejoin="round"/>
<polygon points="431.2,446.3 436.5,444.5 441.9,449.0 449.0,451.6 451.6,457.0 457.9,457.9 465.9,460.6 473.0,463.2 479.3,469.5 474.8,478.4 471.2,487.3 464.1,489.9 458.4,495.0 454.7,491.8 447.2,492.5 439.7,488.7 432.3,488.1 427.3,492.5 421.0,494.3 411.7,495.0 410.7,490.0 401.8,481.1 396.5,470.4 392.9,463.3 400.0,457.0 410.7,452.5 421.4,449.0 422.3,442.7" fill="none" stroke="#fff" stroke-width="0.6" stroke-linejoin="round"/>
<polygon points="479.3,469.5 489.0,472.1 499.7,474.8 508.6,477.5 515.8,475.7 522.9,473.0 533.6,476.6 539.8,478.4 537.1,485.5 534.5,493.5 524.7,494.4 514.0,497.1 499.7,501.5 485.5,506.0 476.6,510.4 467.7,509.5 461.6,506.8 459.7,501.2 458.4,495.0 464.1,489.9 471.2,487.3 474.8,478.4" fill="none" stroke="#fff" stroke-width="0.6" stroke-linejoin="round"/>
<polygon points="422.6,386.7 429.7,379.5 444.0,373.3 454.7,367.1 470.7,363.5 477.8,364.4 476.0,368.8 484.9,372.4 491.2,368.5 506.7,369.9 529.9,366.4 537.0,370.8 541.4,375.3 547.7,394.0 546.0,402.0 543.0,410.0 546.5,416.0 547.8,424.9 547.8,431.2 554.9,439.2 556.7,446.3 551.4,453.4 544.3,462.3 540.7,471.2 539.8,478.4 533.6,476.6 522.9,473.0 515.8,475.7 508.6,477.5 499.7,474.8 489.0,472.1 479.3,469.5 473.0,463.2 465.9,460.6 457.9,457.9 451.6,457.0 449.0,451.6 441.9,449.0 436.5,444.5 431.2,446.3 431.2,441.0 426.7,428.5 425.8,410.7 422.3,401.0 423.2,386.7" fill="none" stroke="#fff" stroke-width="0.6" stroke-linejoin="round"/>
<polygon points="912.0,570.6 918.2,581.2 927.1,590.1 932.5,600.8 941.4,602.6 946.7,611.5 951.2,620.4 944.9,616.9 937.8,608.8 930.7,607.1 921.8,606.2 912.9,602.6 905.8,597.3 899.5,586.6 901.3,578.6 904.0,572.3" fill="none" stroke="#fff" stroke-width="0.6" stroke-linejoin="round"/>
<polygon points="805.1,534.9 816.7,531.4 834.5,534.0 848.8,536.7 861.2,540.3 877.3,548.3 882.6,543.8 893.3,538.5 904.0,539.4 909.3,548.3 918.2,553.6 920.9,561.6 925.4,568.8 927.1,572.3 920.0,573.2 912.0,570.6 904.0,572.3 901.3,578.6 889.7,582.1 879.0,573.2 871.9,566.1 864.8,564.3 855.9,566.1 842.5,570.6 841.6,565.2 836.3,556.3 825.6,547.4 813.2,542.9 806.0,538.5" fill="none" stroke="#fff" stroke-width="0.6" stroke-linejoin="round"/>
<polygon points="553.4,583.3 558.8,588.6 578.4,586.9 596.2,587.7 606.9,582.4 615.8,577.1 628.2,578.0 638.9,580.6 646.9,579.7 646.0,586.9 640.7,592.2 638.0,597.5 640.7,602.9 636.2,608.2 642.5,615.4 644.5,618.5 636.7,621.2 627.8,620.3 618.9,625.6 615.4,627.4 613.6,632.7 608.2,637.2 597.5,638.1 586.9,634.5 572.6,638.1 561.0,639.9 561.0,637.2 558.4,628.3 551.2,621.5 555.2,610.0 558.8,601.1 550.8,594.0 549.0,586.9" fill="none" stroke="#fff" stroke-width="0.6" stroke-linejoin="round"/>
<polygon points="492.4,551.6 498.6,544.5 505.8,542.7 514.2,543.2 521.4,548.6 526.7,554.8 531.2,561.9 535.6,567.3 542.7,572.6 546.3,570.8 552.5,572.6 549.0,576.2 553.4,583.3 549.0,586.9 550.8,594.0 558.8,601.1 555.2,610.0 551.2,621.5 543.2,622.9 544.9,614.0 539.6,605.1 528.9,599.7 518.2,603.3 512.9,614.0 507.5,608.6 500.4,603.3 495.1,601.5 496.9,594.4 500.4,589.0 496.9,583.7 497.7,574.8 496.9,565.0 498.6,562.3 495.1,560.6" fill="none" stroke="#fff" stroke-width="0.6" stroke-linejoin="round"/>
<polygon points="445.2,564.1 451.4,561.4 465.0,562.5 479.0,562.3 489.7,563.2 496.9,565.0 497.7,574.8 496.9,583.7 500.4,589.0 496.9,594.4 495.1,601.5 489.7,606.9 486.2,615.8 484.4,622.9 475.5,614.0 468.4,606.9 461.2,599.7 456.0,592.0 452.3,585.5 448.8,578.4 444.3,571.2" fill="none" stroke="#fff" stroke-width="0.6" stroke-linejoin="round"/>
<polygon points="411.7,495.0 408.6,498.7 407.9,501.8 402.3,504.9 401.1,509.9 402.3,514.9 394.9,517.4 386.1,515.5 377.4,518.6 368.7,522.4 359.9,523.0 358.7,524.9 361.0,528.4 363.0,528.9 372.4,528.0 382.4,526.1 388.6,528.0 393.6,533.6 402.3,536.7 407.3,538.0 415.0,537.5 427.3,536.1 439.7,534.9 448.5,532.4 452.2,530.5 454.1,521.1 452.8,516.2 455.9,512.4 461.6,506.8 459.7,501.2 458.4,495.0 454.7,491.8 447.2,492.5 439.7,488.7 432.3,488.1 427.3,492.5 421.0,494.3" fill="none" stroke="#fff" stroke-width="0.6" stroke-linejoin="round"/>
<polygon points="322.3,511.5 313.9,515.0 309.2,522.2 298.5,529.3 297.3,537.6 304.4,538.8 306.8,545.9 308.7,550.3 316.5,546.0 325.7,544.2 340.0,547.8 343.5,544.2 351.9,544.7 354.3,538.8 358.0,536.0 362.5,532.0 361.0,528.4 358.7,524.9 354.3,523.0 351.9,526.9 350.8,518.6 340.1,513.8 330.6,515.0" fill="none" stroke="#fff" stroke-width="0.6" stroke-linejoin="round"/>
<polygon points="302.1,457.5 305.6,454.9 308.3,455.3 309.2,459.7 308.3,465.1 304.7,465.3 301.2,464.7 301.2,462.9" fill="none" stroke="#fff" stroke-width="0.6" stroke-linejoin="round"/>
<polygon points="512.9,614.0 518.2,603.3 528.9,599.7 539.6,605.1 544.9,614.0 543.2,622.9 538.8,624.7 526.3,628.3 521.9,632.0 513.8,628.3 511.1,622.9" fill="none" stroke="#fff" stroke-width="0.6" stroke-linejoin="round"/>
<polygon points="521.9,636.3 521.9,632.0 526.3,628.3 538.8,624.7 543.2,622.9 551.2,621.5 558.4,628.3 561.0,637.2 558.4,643.4 547.7,648.8 533.4,654.1 524.5,648.8 521.9,641.6" fill="none" stroke="#fff" stroke-width="0.6" stroke-linejoin="round"/>
<polygon points="506.7,632.7 513.8,628.3 521.9,632.0 521.9,636.3 521.9,641.6 524.5,648.8 533.4,654.1 535.2,661.2 529.9,668.4 522.7,675.5 518.3,677.3 515.6,670.1 509.4,661.2 506.7,652.3 506.7,643.4 504.9,636.3 504.0,635.4" fill="none" stroke="#fff" stroke-width="0.6" stroke-linejoin="round"/>
<polygon points="574.4,337.0 579.7,329.0 585.1,329.9 586.9,324.5 592.2,318.3 598.4,321.9 604.7,321.0 608.2,326.3 612.7,321.0 622.5,320.1 628.7,324.5 633.2,335.2 638.5,346.8 645.6,353.0 648.3,358.4 658.1,358.4 661.7,361.9 659.9,367.3 654.5,369.9 648.3,372.6 649.2,379.7 656.3,392.2 645.6,399.3 642.1,411.8 629.6,415.4 622.5,413.6 611.8,416.2 601.1,418.0 586.9,414.5 572.6,414.5 558.4,417.1 547.8,424.9 546.5,416.0 543.0,410.0 546.0,402.0 547.7,394.0 541.4,375.3 551.2,374.4 560.1,369.0 569.0,362.8 566.4,356.6 573.5,345.9" fill="none" stroke="#fff" stroke-width="0.95" stroke-linejoin="round"/>
<polygon points="547.8,424.9 558.4,417.1 572.6,414.5 586.9,414.5 601.1,418.0 611.8,416.2 622.5,413.6 629.6,415.4 642.1,411.8 643.4,400.9 645.6,399.3 656.3,392.2 655.3,393.7 668.4,387.8 681.4,384.7 689.7,391.4 693.3,402.1 706.3,404.4 713.5,413.9 727.7,412.7 740.8,408.5 747.9,413.9 763.3,413.9 774.0,412.7 782.3,417.5 785.9,425.8 781.1,432.9 788.3,443.6 785.9,453.1 777.6,456.7 771.6,465.0 772.8,472.1 768.1,476.9 761.0,481.6 753.8,488.7 744.3,495.8 737.2,501.8 732.5,501.8 730.1,510.1 721.8,508.9 718.2,511.3 723.0,516.0 730.1,517.2 737.2,524.3 742.0,522.0 749.1,522.0 756.2,519.6 761.0,522.0 756.2,526.7 746.7,526.7 742.0,533.8 732.5,537.4 727.7,546.9 719.4,548.1 715.8,537.4 704.0,529.1 711.1,523.1 714.7,516.0 706.3,513.7 694.5,517.2 685.0,514.8 687.4,510.1 677.9,507.7 668.4,514.8 662.4,524.3 655.3,532.6 652.9,541.0 654.9,541.4 647.8,544.1 640.7,547.7 634.5,544.0 639.9,533.8 641.0,524.3 647.0,519.6 654.1,517.2 649.4,507.7 641.0,500.6 637.5,491.1 630.4,486.3 618.5,486.3 606.6,484.0 598.8,487.0 590.8,494.2 581.9,497.8 569.5,497.8 557.0,500.5 545.1,502.4 540.7,497.1 534.5,493.5 537.1,485.5 539.8,478.4 540.7,471.2 544.3,462.3 551.4,453.4 556.7,446.3 554.9,439.2 547.8,431.2" fill="none" stroke="#fff" stroke-width="0.95" stroke-linejoin="round"/>
<polygon points="598.8,487.0 606.6,484.0 618.5,486.3 630.4,486.3 637.5,491.1 641.0,500.6 649.4,507.7 654.1,517.2 647.0,519.6 641.0,524.3 639.9,533.8 634.5,544.0 631.6,536.2 628.0,526.7 620.9,512.5 613.7,503.0 606.6,493.5" fill="none" stroke="#fff" stroke-width="0.95" stroke-linejoin="round"/>
<polygon points="545.1,502.4 557.0,500.5 569.5,497.8 581.9,497.8 590.8,494.2 598.8,487.0 606.6,493.5 613.7,503.0 620.9,512.5 628.0,526.7 631.6,536.2 634.5,544.0 640.7,547.7 647.8,544.1 654.9,541.4 656.7,549.5 651.4,554.8 646.0,552.1 644.3,558.4 645.2,569.0 646.9,579.7 638.9,580.6 628.2,578.0 615.8,577.1 606.9,582.4 596.2,587.7 578.4,586.9 558.8,588.6 553.4,583.3 549.0,576.2 552.5,572.6 546.3,570.8 542.7,572.6 535.6,567.3 531.2,561.9 526.7,554.8 521.4,548.6 514.2,543.2 523.2,538.8 530.3,528.1 533.8,515.6 539.2,507.6" fill="none" stroke="#fff" stroke-width="0.95" stroke-linejoin="round"/>
<polygon points="57.9,562.6 70.0,560.0 88.2,558.5 102.2,560.0 109.7,561.2 119.7,568.7 139.6,572.0 169.6,581.2 184.5,593.7 202.0,602.4 209.5,601.1 216.9,609.9 221.9,608.6 226.9,612.4 244.4,613.6 240.6,624.8 224.4,633.5 204.5,637.3 193.2,652.2 174.5,669.7 180.8,682.2 169.6,692.1 159.6,703.4 145.9,707.1 137.1,717.1 127.2,713.3 109.7,712.1 92.3,712.1 79.8,719.6 69.8,715.8 66.1,702.1 58.6,692.1 47.4,689.6 49.9,679.7 59.9,672.2 57.4,662.2 63.6,652.2 62.4,637.3 72.3,634.8 73.6,624.8 78.6,609.9 89.8,603.6 89.8,594.9 81.1,591.2 69.8,588.7 62.4,582.4 54.9,583.7 57.4,570.0 52.9,571.1 54.9,564.0" fill="none" stroke="#fff" stroke-width="0.8" stroke-linejoin="round"/>
<polygon points="921.8,606.2 930.7,607.1 937.8,608.8 944.9,616.9 951.2,621.5 949.4,622.3 941.4,618.6 930.7,614.2 925.4,609.7" fill="none" stroke="#fff" stroke-width="0.6" stroke-linejoin="round"/>
<ellipse cx="218.9" cy="604.7" rx="3.6" ry="3.9" fill="#fbe84a"/>
<ellipse cx="355.6" cy="524.3" rx="3.1" ry="4" fill="#f2a08d" transform="rotate(-20 355.6 524.3)"/>
<ellipse cx="313.9" cy="587.6" rx="2.6" ry="3.4" fill="#de4f63"/>
<ellipse cx="394" cy="591.4" rx="2.9" ry="3.6" fill="#e25d6c" transform="rotate(-20 394 591.4)"/>
</g>
<rect x="160" y="0" width="808" height="159.3" fill="#fff" opacity="0.915"/>
<g id="labels">
<text x="89.80" y="121.4" class="num">4</text>
<text x="101.50" y="121.4" class="num">7</text>
<text x="113.10" y="121.4" class="num"><tspan class="pc">%</tspan></text>
<text x="107.7" y="131.0" text-anchor="middle" class="nm">Iceland</text>
<text x="118.40" y="362.0" class="num">5</text>
<text x="130.10" y="362.0" class="num">2</text>
<text x="141.70" y="362.0" class="num"><tspan class="pc">%</tspan></text>
<text x="136.3" y="371.4" text-anchor="middle" class="nm">Ireland</text>
<text x="197.80" y="378.8" class="num">7</text>
<text x="209.50" y="378.8" class="num">3</text>
<text x="221.10" y="378.8" class="num"><tspan class="pc">%</tspan></text>
<text x="215.7" y="388.4" text-anchor="middle" class="nm">United</text>
<text x="215.7" y="396.1" text-anchor="middle" class="nm">Kingdom</text>
<text x="292.30" y="394.3" class="num">6</text>
<text x="304.00" y="394.3" class="num">0</text>
<text x="315.60" y="394.3" class="num"><tspan class="pc">%</tspan></text>
<text x="310.2" y="402.7" text-anchor="middle" class="nm">The</text>
<text x="310.2" y="410.9" text-anchor="middle" class="nm">Netherlands</text>
<text x="269.70" y="442.9" class="num">7</text>
<text x="281.40" y="442.9" class="num">9</text>
<text x="293.00" y="442.9" class="num"><tspan class="pc">%</tspan></text>
<text x="287.6" y="452.2" text-anchor="middle" class="nm">Belgium</text>
<text x="291.30" y="479.8" class="num">4</text>
<text x="303.00" y="479.8" class="num">7</text>
<text x="314.60" y="479.8" class="num"><tspan class="pc">%</tspan></text>
<text x="309.2" y="488.2" text-anchor="middle" class="nm">Luxembourg</text>
<text x="341.50" y="436.6" class="num">5</text>
<text x="353.20" y="436.6" class="num">9</text>
<text x="364.80" y="436.6" class="num"><tspan class="pc">%</tspan></text>
<text x="359.4" y="445.1" text-anchor="middle" class="nm">Germany</text>
<text x="415.90" y="464.2" class="num">2</text>
<text x="427.60" y="464.2" class="num">9</text>
<text x="439.20" y="464.2" class="num"><tspan class="pc">%</tspan></text>
<text x="433.8" y="473.1" text-anchor="middle" class="nm">Czech</text>
<text x="433.8" y="481.1" text-anchor="middle" class="nm">Republic</text>
<path d="M346.25 493.30H348.85V508.70H346.25V496.10L343.25 498.30V495.70Z" fill="#0a0a0a"/>
<text x="350.25" y="508.7" class="num">8</text>
<text x="361.85" y="508.7" class="num"><tspan class="pc">%</tspan></text>
<text x="358.5" y="518.0" text-anchor="middle" class="nm">Liechtenstein</text>
<text x="410.40" y="518.0" class="num">5</text>
<text x="422.10" y="518.0" class="num">6</text>
<text x="433.70" y="518.0" class="num"><tspan class="pc">%</tspan></text>
<text x="428.3" y="527.1" text-anchor="middle" class="nm">Austria</text>
<text x="404.40" y="545.5" class="num">4</text>
<text x="416.10" y="545.5" class="num">8</text>
<text x="427.70" y="545.5" class="num"><tspan class="pc">%</tspan></text>
<text x="422.3" y="554.2" text-anchor="middle" class="nm">Slovenia</text>
<text x="450.95" y="553.4" class="num">5</text>
<path d="M466.25 538.00H468.85V553.40H466.25V540.80L463.25 543.00V540.40Z" fill="#0a0a0a"/>
<text x="470.15" y="553.4" class="num"><tspan class="pc">%</tspan></text>
<text x="466.8" y="562.3" text-anchor="middle" class="nm">Croatia</text>
<text x="456.95" y="581.0" class="num">3</text>
<path d="M472.25 565.60H474.85V581.00H472.25V568.40L469.25 570.60V568.00Z" fill="#0a0a0a"/>
<text x="476.15" y="581.0" class="num"><tspan class="pc">%</tspan></text>
<text x="472.8" y="589.0" text-anchor="middle" class="nm">Bosnia&amp;</text>
<text x="472.8" y="597.6" text-anchor="middle" class="nm">Herzegovina</text>
<text x="503.40" y="579.3" class="num">3</text>
<text x="515.10" y="579.3" class="num">0</text>
<text x="526.70" y="579.3" class="num"><tspan class="pc">%</tspan></text>
<text x="521.3" y="587.6" text-anchor="middle" class="nm">Serbia</text>
<text x="512.10" y="614.0" class="num">3</text>
<text x="523.80" y="614.0" class="num">3</text>
<text x="535.40" y="614.0" class="num"><tspan class="pc">%</tspan></text>
<text x="530.0" y="622.5" text-anchor="middle" class="nm">Kosovo*</text>
<text x="473.30" y="625.6" class="num">3</text>
<text x="485.00" y="625.6" class="num">8</text>
<text x="496.60" y="625.6" class="num"><tspan class="pc">%</tspan></text>
<text x="491.2" y="633.9" text-anchor="middle" class="nm">Montenegro</text>
<path d="M529.15 626.20H531.75V641.60H529.15V629.00L526.15 631.20V628.60Z" fill="#0a0a0a"/>
<text x="533.15" y="641.6" class="num">4</text>
<text x="544.75" y="641.6" class="num"><tspan class="pc">%</tspan></text>
<text x="541.4" y="649.7" text-anchor="middle" class="nm">FYR Macedonia</text>
<text x="500.10" y="666.6" class="num">3</text>
<text x="511.80" y="666.6" class="num">3</text>
<text x="523.40" y="666.6" class="num"><tspan class="pc">%</tspan></text>
<text x="518.0" y="674.6" text-anchor="middle" class="nm">Albania</text>
<text x="532.80" y="693.3" class="num">5</text>
<text x="544.50" y="693.3" class="num">2</text>
<text x="556.10" y="693.3" class="num"><tspan class="pc">%</tspan></text>
<text x="550.7" y="701.8" text-anchor="middle" class="nm">Greece</text>
<text x="577.80" y="612.3" class="num">2</text>
<text x="589.50" y="612.3" class="num">4</text>
<text x="601.10" y="612.3" class="num"><tspan class="pc">%</tspan></text>
<text x="595.7" y="621.7" text-anchor="middle" class="nm">Bulgaria</text>
<text x="566.75" y="543.2" class="num">2</text>
<path d="M582.05 527.80H584.65V543.20H582.05V530.60L579.05 532.80V530.20Z" fill="#0a0a0a"/>
<text x="585.95" y="543.2" class="num"><tspan class="pc">%</tspan></text>
<text x="582.6" y="552.1" text-anchor="middle" class="nm">Romania</text>
<path d="M621.05 492.20H623.65V507.60H621.05V495.00L618.05 497.20V494.60Z" fill="#0a0a0a"/>
<text x="625.05" y="507.6" class="num">3</text>
<text x="636.65" y="507.6" class="num"><tspan class="pc">%</tspan></text>
<text x="633.3" y="516.5" text-anchor="middle" class="nm">Moldova</text>
<text x="479.10" y="524.7" class="num">4</text>
<text x="490.80" y="524.7" class="num">7</text>
<text x="502.40" y="524.7" class="num"><tspan class="pc">%</tspan></text>
<text x="497.0" y="532.7" text-anchor="middle" class="nm">Hungary</text>
<text x="478.70" y="487.3" class="num">2</text>
<text x="490.40" y="487.3" class="num">9</text>
<text x="502.00" y="487.3" class="num"><tspan class="pc">%</tspan></text>
<text x="496.6" y="495.3" text-anchor="middle" class="nm">Slovakia</text>
<path d="M473.95 408.60H476.55V424.00H473.95V411.40L470.95 413.60V411.00Z" fill="#0a0a0a"/>
<text x="477.95" y="424.0" class="num">8</text>
<text x="489.55" y="424.0" class="num"><tspan class="pc">%</tspan></text>
<text x="486.2" y="432.4" text-anchor="middle" class="nm">Poland</text>
<text x="648.85" y="454.3" class="num">2</text>
<path d="M664.15 438.90H666.75V454.30H664.15V441.70L661.15 443.90V441.30Z" fill="#0a0a0a"/>
<text x="668.05" y="454.3" class="num"><tspan class="pc">%</tspan></text>
<text x="664.7" y="462.6" text-anchor="middle" class="nm">Ukraine</text>
<path d="M592.15 368.40H594.75V383.80H592.15V371.20L589.15 373.40V370.80Z" fill="#0a0a0a"/>
<text x="596.15" y="383.8" class="num">3</text>
<text x="607.75" y="383.8" class="num"><tspan class="pc">%</tspan></text>
<text x="604.4" y="392.6" text-anchor="middle" class="nm">Belarus</text>
<text x="526.25" y="347.3" class="num">2</text>
<path d="M541.55 331.90H544.15V347.30H541.55V334.70L538.55 336.90V334.30Z" fill="#0a0a0a"/>
<text x="545.45" y="347.3" class="num"><tspan class="pc">%</tspan></text>
<text x="542.1" y="356.2" text-anchor="middle" class="nm">Lithuania</text>
<path d="M545.85 296.70H548.45V312.10H545.85V299.50L542.85 301.70V299.10Z" fill="#0a0a0a"/>
<text x="549.85" y="312.1" class="num">6</text>
<text x="561.45" y="312.1" class="num"><tspan class="pc">%</tspan></text>
<text x="558.1" y="320.6" text-anchor="middle" class="nm">Latvia</text>
<text x="531.40" y="272.9" class="num">3</text>
<text x="543.10" y="272.9" class="num">9</text>
<text x="554.70" y="272.9" class="num"><tspan class="pc">%</tspan></text>
<text x="549.3" y="281.4" text-anchor="middle" class="nm">Estonia</text>
<text x="511.10" y="220.3" class="num">7</text>
<text x="522.80" y="220.3" class="num">3</text>
<text x="534.40" y="220.3" class="num"><tspan class="pc">%</tspan></text>
<text x="529.0" y="229.8" text-anchor="middle" class="nm">Finland</text>
<text x="349.10" y="243.5" class="num">7</text>
<text x="360.80" y="243.5" class="num">8</text>
<text x="372.40" y="243.5" class="num"><tspan class="pc">%</tspan></text>
<text x="367.0" y="251.9" text-anchor="middle" class="nm">Norway</text>
<text x="403.60" y="289.8" class="num">6</text>
<text x="415.30" y="289.8" class="num">0</text>
<text x="426.90" y="289.8" class="num"><tspan class="pc">%</tspan></text>
<text x="421.5" y="298.2" text-anchor="middle" class="nm">Sweden</text>
<text x="344.80" y="334.1" class="num">6</text>
<text x="356.50" y="334.1" class="num">8</text>
<text x="368.10" y="334.1" class="num"><tspan class="pc">%</tspan></text>
<text x="362.7" y="342.7" text-anchor="middle" class="nm">Denmark</text>
<path d="M801.80 297.80H804.40V313.20H801.80V300.60L798.80 302.80V300.20Z" fill="#0a0a0a"/>
<path d="M809.40 297.80H812.00V313.20H809.40V300.60L806.40 302.80V300.20Z" fill="#0a0a0a"/>
<text x="813.30" y="313.2" class="num"><tspan class="pc">%</tspan></text>
<text x="812.0" y="323.2" text-anchor="middle" class="nm">Russia</text>
<text x="220.30" y="517.9" class="num">7</text>
<text x="232.00" y="517.9" class="num">3</text>
<text x="243.60" y="517.9" class="num"><tspan class="pc">%</tspan></text>
<text x="238.2" y="526.4" text-anchor="middle" class="nm">France</text>
<text x="310.50" y="535.2" class="num">3</text>
<text x="322.20" y="535.2" class="num">8</text>
<text x="333.80" y="535.2" class="num"><tspan class="pc">%</tspan></text>
<text x="328.4" y="544.3" text-anchor="middle" class="nm">Switzerland</text>
<path d="M297.95 557.80H300.55V573.20H297.95V560.60L294.95 562.80V560.20Z" fill="#0a0a0a"/>
<text x="301.95" y="573.2" class="num">0</text>
<text x="313.55" y="573.2" class="num"><tspan class="pc">%</tspan></text>
<text x="310.2" y="582.0" text-anchor="middle" class="nm">Monaco</text>
<text x="203.80" y="591.1" class="num">3</text>
<text x="215.50" y="591.1" class="num">5</text>
<text x="227.10" y="591.1" class="num"><tspan class="pc">%</tspan></text>
<text x="221.7" y="599.4" text-anchor="middle" class="nm">Andorra</text>
<text x="105.50" y="644.8" class="num">6</text>
<text x="117.20" y="644.8" class="num">7</text>
<text x="128.80" y="644.8" class="num"><tspan class="pc">%</tspan></text>
<text x="123.4" y="653.5" text-anchor="middle" class="nm">Spain</text>
<text x="29.30" y="639.8" class="num">6</text>
<text x="41.00" y="639.8" class="num">9</text>
<text x="52.60" y="639.8" class="num"><tspan class="pc">%</tspan></text>
<text x="47.2" y="648.5" text-anchor="middle" class="nm">Portugal</text>
<text x="384.30" y="629.5" class="num">2</text>
<text x="396.00" y="629.5" class="num">7</text>
<text x="407.60" y="629.5" class="num"><tspan class="pc">%</tspan></text>
<text x="402.2" y="637.5" text-anchor="middle" class="nm">Italy</text>
<path d="M371.75 553.60H374.35V569.00H371.75V556.40L368.75 558.60V556.00Z" fill="#0a0a0a"/>
<text x="375.75" y="569.0" class="num">2</text>
<text x="387.35" y="569.0" class="num"><tspan class="pc">%</tspan></text>
<text x="384.0" y="578.8" text-anchor="middle" class="nm">San</text>
<text x="384.0" y="587.3" text-anchor="middle" class="nm">Marino</text>
<text x="435.15" y="767.1" class="num">9</text>
<path d="M450.45 751.70H453.05V767.10H450.45V754.50L447.45 756.70V754.10Z" fill="#0a0a0a"/>
<text x="454.35" y="767.1" class="num"><tspan class="pc">%</tspan></text>
<text x="451.0" y="776.9" text-anchor="middle" class="nm">Malta</text>
<text x="747.10" y="765.1" class="num">2</text>
<text x="758.80" y="765.1" class="num">9</text>
<text x="770.40" y="765.1" class="num"><tspan class="pc">%</tspan></text>
<text x="765.0" y="774.0" text-anchor="middle" class="nm">Cyprus</text>
<text x="730.25" y="656.8" class="num">9</text>
<text x="741.85" y="656.8" class="num"><tspan class="pc">%</tspan></text>
<text x="742.3" y="665.6" text-anchor="middle" class="nm">Turkey</text>
<text x="835.10" y="554.5" class="num">2</text>
<text x="846.80" y="554.5" class="num">6</text>
<text x="858.40" y="554.5" class="num"><tspan class="pc">%</tspan></text>
<text x="853.0" y="563.1" text-anchor="middle" class="nm">Georgia</text>
<text x="922.65" y="570.6" class="num">5</text>
<text x="934.25" y="570.6" class="num"><tspan class="pc">%</tspan></text>
<text x="934.7" y="579.5" text-anchor="middle" class="nm">Azerbaijan</text>
<text x="892.85" y="597.8" class="num">7</text>
<text x="904.45" y="597.8" class="num"><tspan class="pc">%</tspan></text>
<text x="904.9" y="606.2" text-anchor="middle" class="nm">Armenia</text>
</g>
<g id="legend">
<rect x="1023.9" y="101.4" width="11.2" height="657.0" fill="url(#lg)"/>
<line x1="1019.9" x2="1037.8" y1="758.4" y2="758.4" stroke="#555" stroke-width="0.5" opacity="0.7"/>
<text x="1016" y="760.4" text-anchor="end" class="tk">0%</text>
<line x1="1019.9" x2="1037.8" y1="725.5" y2="725.5" stroke="#555" stroke-width="0.5" opacity="0.7"/>
<text x="1016" y="727.5" text-anchor="end" class="tk">5%</text>
<line x1="1019.9" x2="1037.8" y1="692.7" y2="692.7" stroke="#555" stroke-width="0.5" opacity="0.7"/>
<text x="1016" y="694.7" text-anchor="end" class="tk">10%</text>
<line x1="1019.9" x2="1037.8" y1="659.9" y2="659.9" stroke="#555" stroke-width="0.5" opacity="0.7"/>
<text x="1016" y="661.9" text-anchor="end" class="tk">15%</text>
<line x1="1019.9" x2="1037.8" y1="627.0" y2="627.0" stroke="#555" stroke-width="0.5" opacity="0.7"/>
<text x="1016" y="629.0" text-anchor="end" class="tk">20%</text>
<line x1="1019.9" x2="1037.8" y1="594.1" y2="594.1" stroke="#555" stroke-width="0.5" opacity="0.7"/>
<text x="1016" y="596.1" text-anchor="end" class="tk">25%</text>
<line x1="1019.9" x2="1037.8" y1="561.3" y2="561.3" stroke="#555" stroke-width="0.5" opacity="0.7"/>
<text x="1016" y="563.3" text-anchor="end" class="tk">30%</text>
<line x1="1019.9" x2="1037.8" y1="528.5" y2="528.5" stroke="#555" stroke-width="0.5" opacity="0.7"/>
<text x="1016" y="530.5" text-anchor="end" class="tk">35%</text>
<line x1="1019.9" x2="1037.8" y1="495.6" y2="495.6" stroke="#555" stroke-width="0.5" opacity="0.7"/>
<text x="1016" y="497.6" text-anchor="end" class="tk">40%</text>
<line x1="1019.9" x2="1037.8" y1="462.8" y2="462.8" stroke="#555" stroke-width="0.5" opacity="0.7"/>
<text x="1016" y="464.8" text-anchor="end" class="tk">45%</text>
<line x1="1019.9" x2="1037.8" y1="429.9" y2="429.9" stroke="#555" stroke-width="0.5" opacity="0.7"/>
<text x="1016" y="431.9" text-anchor="end" class="tk">50%</text>
<line x1="1019.9" x2="1037.8" y1="397.0" y2="397.0" stroke="#555" stroke-width="0.5" opacity="0.7"/>
<text x="1016" y="399.0" text-anchor="end" class="tk">55%</text>
<line x1="1019.9" x2="1037.8" y1="364.2" y2="364.2" stroke="#555" stroke-width="0.5" opacity="0.7"/>
<text x="1016" y="366.2" text-anchor="end" class="tk">60%</text>
<line x1="1019.9" x2="1037.8" y1="331.3" y2="331.3" stroke="#555" stroke-width="0.5" opacity="0.7"/>
<text x="1016" y="333.3" text-anchor="end" class="tk">65%</text>
<line x1="1019.9" x2="1037.8" y1="298.5" y2="298.5" stroke="#555" stroke-width="0.5" opacity="0.7"/>
<text x="1016" y="300.5" text-anchor="end" class="tk">70%</text>
<line x1="1019.9" x2="1037.8" y1="265.6" y2="265.6" stroke="#555" stroke-width="0.5" opacity="0.7"/>
<text x="1016" y="267.6" text-anchor="end" class="tk">75%</text>
<line x1="1019.9" x2="1037.8" y1="232.8" y2="232.8" stroke="#555" stroke-width="0.5" opacity="0.7"/>
<text x="1016" y="234.8" text-anchor="end" class="tk">80%</text>
<line x1="1019.9" x2="1037.8" y1="199.9" y2="199.9" stroke="#555" stroke-width="0.5" opacity="0.7"/>
<text x="1016" y="201.9" text-anchor="end" class="tk">85%</text>
<line x1="1019.9" x2="1037.8" y1="167.1" y2="167.1" stroke="#555" stroke-width="0.5" opacity="0.7"/>
<text x="1016" y="169.1" text-anchor="end" class="tk">90%</text>
<line x1="1019.9" x2="1037.8" y1="134.2" y2="134.2" stroke="#555" stroke-width="0.5" opacity="0.7"/>
<text x="1016" y="136.2" text-anchor="end" class="tk">95%</text>
<text x="1016" y="103.6" text-anchor="end" class="tk">100%</text>
<text x="1040" y="166.0" class="ln">Malta</text>
<text x="1040" y="240.6" class="ln">Belgium</text>
<text x="1040" y="250.0" class="ln">Norway</text>
<text x="1040" y="282.3" class="ln">United Kingdom, Finland, France</text>
<text x="1040" y="305.6" class="ln">Portugal</text>
<text x="1040" y="313.1" class="ln">Denmark</text>
<text x="1040" y="320.6" class="ln">Spain</text>
<text x="1040" y="365.7" class="ln">Sweden, The Netherlands</text>
<text x="1040" y="373.2" class="ln">Germany</text>
<text x="1040" y="393.4" class="ln">Austria</text>
<text x="1040" y="417.7" class="ln">Greece, Ireland</text>
<text x="1040" y="425.0" class="ln">Croatia</text>
<text x="1040" y="443.2" class="ln">Slovenia</text>
<text x="1040" y="451.1" class="ln">Luxembourg, Iceland, Hungary</text>
<text x="1040" y="505.2" class="ln">Estonia</text>
<text x="1040" y="512.6" class="ln">Switzerland, Montenegro</text>
<text x="1040" y="531.4" class="ln">Andorra</text>
<text x="1040" y="547.4" class="ln">Albania, Kosovo*</text>
<text x="1040" y="556.3" class="ln">Bosnia&amp;Herzegovina</text>
<text x="1040" y="563.6" class="ln">Serbia</text>
<text x="1040" y="571.5" class="ln">Czech Republic, Cyprus, Slovakia</text>
<text x="1040" y="584.4" class="ln">Italy</text>
<text x="1040" y="592.7" class="ln">Georgia</text>
<text x="1040" y="604.1" class="ln">Bulgaria</text>
<text x="1040" y="624.0" class="ln">Romania,Ukraine,Lithuania</text>
<text x="1040" y="642.9" class="ln">Poland, Liechtenstein</text>
<text x="1040" y="654.0" class="ln">Latvia</text>
<text x="1040" y="665.2" class="ln">FYR Macedonia</text>
<text x="1040" y="672.7" class="ln">Belarus, Moldova</text>
<text x="1040" y="680.4" class="ln">San Marino</text>
<text x="1040" y="687.6" class="ln">Russia</text>
<text x="1040" y="695.7" class="ln">Monaco</text>
<text x="1040" y="706.8" class="ln">Turkey</text>
<text x="1040" y="717.6" class="ln">Armenia</text>
<text x="1040" y="728.6" class="ln">Azerbaijan</text>
<text x="1044.4" y="106.8" class="lb" style="font-size:8.7px" fill="#0e7a43">respect of human rights,</text>
<text x="1044.4" y="114.3" class="lb" style="font-size:8.7px" fill="#0e7a43">full equality</text>
<text x="1041.5" y="751" class="lb" fill="#a3151a">gross violations of human rights,</text>
<text x="1041.5" y="758.6" class="lb" fill="#a3151a">discrimination</text>
</g>
<g id="logo">
<g filter="url(#sh)" fill="#fff" fill-rule="evenodd">
<path d="M203.8 57.6H239C250 57.6 255.8 65 255.8 75.3C255.8 84 251 90 246.1 91.5L254.1 106H255.5V115.5H237.3L228 93H224.1V115.5H209.1V70H203.8ZM224.1 70V83.2H232C235 83.2 236.8 80.5 236.8 76.6C236.8 72.7 235 70 232 70Z"/>
<path d="M255.6 115.5V106.1H258.5L272.6 57.6H290.2L305.2 106.1H309.6V115.5H289.5V106.1H292.3L291 101.7H273L271.7 106.1H274V115.5ZM281.4 72.6L276.5 91.1H286.7Z"/>
<path d="M310.5 57.6H338.4V70H332.5V106.1H338.4V115.5H310.5V106.1H316.7V70H310.5Z"/>
<path d="M340.6 57.6H361.7L380.5 89.4V69.4H379.4V57.6H400.3V69.4H394.1V115.3H381.7L359.4 83.5V115.3H340.6V102.3H345.3V69.4H340.6Z"/>
<path d="M401.7 57.6H436C444 57.6 447.5 63 447.5 71C447.5 79 444 83 440 85C446 87 450 92 450 99.5C450 109 444 115.3 434 115.3H407.6V69.4H401.7ZM422.9 70V80H430C432.5 80 433.6 78 433.6 75C433.6 72 432.5 70 430 70ZM422.9 91.7V102.9H431C433.8 102.9 434.8 100.5 434.8 97.3C434.8 94 433.8 91.7 431 91.7Z"/>
<g fill-rule="nonzero"><path d="M528 57.3H550V68H528Z"/><path d="M571 57.3H595.1V68H571Z"/><path d="M529 57.3H545.5L548 116.4H534.5Z"/><path d="M534.5 116.4H548L565 66H553Z"/><path d="M553 66H565L582 116.4H569Z"/><path d="M569 116.4H582L593 57.3H577.5Z"/></g>
</g>
<path d="M441.73 85.31A43.20 43.20 0 0 1 449.09 59.64L453.40 62.55A38.00 38.00 0 0 0 446.92 85.13Z" fill="#2a9a3a"/>
<path d="M531.68 75.55A47.50 47.50 0 0 1 517.29 118.54L510.82 111.59A38.00 38.00 0 0 0 522.32 77.20Z" fill="#0d6eb0"/>
<path d="M478.22 131.33A48.00 48.00 0 0 1 445.11 110.64L453.40 105.05A38.00 38.00 0 0 0 479.61 121.43Z" fill="#f8e414"/>
<path d="M468.50 118.96A38.80 38.80 0 0 1 458.94 54.97L468.84 65.96A24.00 24.00 0 0 0 474.76 105.55Z" fill="#d8432c"/>
<path d="M498.17 120.26A38.80 38.80 0 0 1 468.50 118.96L474.76 105.55A24.00 24.00 0 0 0 493.11 106.35Z" fill="#f5b50e"/>
<path d="M503.71 117.74A38.80 38.80 0 0 1 498.17 120.26L493.11 106.35A24.00 24.00 0 0 0 496.54 104.79Z" fill="#9cbf1f"/>
<path d="M506.03 51.26A38.80 38.80 0 0 1 503.71 117.74L496.54 104.79A24.00 24.00 0 0 0 497.97 63.67Z" fill="#f0961a"/>
<path d="M455.03 52.87A43.00 43.00 0 0 1 483.40 40.83L483.99 57.82A26.00 26.00 0 0 0 466.84 65.10Z" fill="#7a3a8e"/>
<path d="M483.50 43.82A40.00 40.00 0 0 1 490.47 44.19L488.52 58.05A26.00 26.00 0 0 0 483.99 57.82Z" fill="#1ea7e0"/>
<circle cx="484.9" cy="83.8" r="18.5" fill="none" stroke="#fff" stroke-width="12.6"/>
<circle cx="484.9" cy="83.8" r="12.3" fill="url(#hole)"/>
<path d="M481.5 72 L486.5 50 L492.5 52 L488.5 73Z" fill="#f3f4f1"/>
<circle cx="605.2" cy="62.0" r="4.0" fill="#e8432d"/>
<circle cx="605.2" cy="73.7" r="4.0" fill="#e8432d"/>
<circle cx="605.2" cy="85.3" r="4.0" fill="#e8432d"/>
<circle cx="605.2" cy="97.2" r="4.0" fill="#e8432d"/>
<circle cx="615.7" cy="62.0" r="3.5" fill="#f39325"/>
<circle cx="615.7" cy="73.6" r="3.5" fill="#f39325"/>
<circle cx="615.7" cy="85.3" r="3.5" fill="#f39325"/>
<circle cx="615.7" cy="97.2" r="3.5" fill="#f39325"/>
<circle cx="625.8" cy="61.2" r="3.2" fill="#f9e22b"/>
<circle cx="625.8" cy="73.0" r="3.2" fill="#f9e22b"/>
<circle cx="625.8" cy="84.4" r="3.2" fill="#f9e22b"/>
<circle cx="625.8" cy="96.5" r="3.2" fill="#f9e22b"/>
<circle cx="634.9" cy="58.3" r="3.0" fill="#3fa187"/>
<circle cx="634.9" cy="70.1" r="3.0" fill="#3fa187"/>
<circle cx="634.9" cy="81.8" r="3.0" fill="#3fa187"/>
<circle cx="634.9" cy="93.6" r="3.0" fill="#3fa187"/>
<circle cx="643.3" cy="53.4" r="2.7" fill="#3fa187"/>
<circle cx="643.3" cy="65.2" r="2.7" fill="#3fa187"/>
<circle cx="643.3" cy="76.9" r="2.7" fill="#3fa187"/>
<circle cx="643.3" cy="88.7" r="2.7" fill="#3fa187"/>
<circle cx="650.5" cy="47.3" r="2.4" fill="#3fa187"/>
<circle cx="650.5" cy="59.3" r="2.4" fill="#3fa187"/>
<circle cx="650.5" cy="71.0" r="2.4" fill="#3fa187"/>
<circle cx="650.5" cy="82.8" r="2.4" fill="#3fa187"/>
<text x="597" y="118.4" font-size="16.2" fill="#111" textLength="60.2" lengthAdjust="spacingAndGlyphs">EUROPE</text>
<text x="241.3" y="142.2" text-anchor="middle" class="sc" fill="#b5636b">0%</text>
<text x="274.7" y="142.2" text-anchor="middle" class="sc" fill="#ee8a8f">10%</text>
<text x="315.5" y="142.2" text-anchor="middle" class="sc" fill="#f7b9a3">20%</text>
<text x="353.3" y="142.2" text-anchor="middle" class="sc" fill="#fbeeb0">30%</text>
<text x="392.2" y="142.2" text-anchor="middle" class="sc" fill="#fbe878">40%</text>
<text x="430.0" y="142.2" text-anchor="middle" class="sc" fill="#c9d97a">50%</text>
<text x="468.3" y="142.2" text-anchor="middle" class="sc" fill="#9ccf8a">60%</text>
<text x="503.6" y="142.2" text-anchor="middle" class="sc" fill="#7ec29a">70%</text>
<text x="542.1" y="142.2" text-anchor="middle" class="sc" fill="#6aae8d">80%</text>
<text x="576.7" y="142.2" text-anchor="middle" class="sc" fill="#4f9a7a">90%</text>
<text x="619.1" y="142.2" text-anchor="middle" class="sc" fill="#4a9273">100%</text>
</g>
<g id="hdr">
<text x="689.6" y="69.3" font-size="17.4" fill="#111" textLength="78" lengthAdjust="spacingAndGlyphs">MAY 2018</text>
<text x="689.6" y="90" font-size="12" fill="#3a3a3a" textLength="266.8" lengthAdjust="spacingAndGlyphs">Reflecting the legal and policy human rights situation</text>
<text x="689.6" y="102.9" font-size="12" fill="#3a3a3a" textLength="245.5" lengthAdjust="spacingAndGlyphs">of lesbian, gay, bisexual, trans and intersex (LGBTI)</text>
<text x="689.6" y="115.6" font-size="12" fill="#3a3a3a" textLength="85" lengthAdjust="spacingAndGlyphs">people in Europe</text>
<text x="689.6" y="131.6" font-size="9.6" fill="#222" textLength="145.5" lengthAdjust="spacingAndGlyphs">How did we calculate these scores?</text>
<text x="689.6" y="141.9" font-size="9.6" fill="#222" textLength="167.4" lengthAdjust="spacingAndGlyphs">Have a look at <tspan font-weight="bold" fill="#111">www.rainbow-europe.org</tspan></text>
</g>
<g id="foot">
<path d="M40.00 785.42h1.44v1.44h-1.44zM40.00 786.86h1.44v1.44h-1.44zM40.00 789.74h1.44v1.44h-1.44zM40.00 792.62h1.44v1.44h-1.44zM40.00 794.06h1.44v1.44h-1.44zM40.00 796.94h1.44v1.44h-1.44zM41.44 785.42h1.44v1.44h-1.44zM41.44 786.86h1.44v1.44h-1.44zM41.44 788.30h1.44v1.44h-1.44zM41.44 789.74h1.44v1.44h-1.44zM41.44 792.62h1.44v1.44h-1.44zM41.44 794.06h1.44v1.44h-1.44zM42.88 786.86h1.44v1.44h-1.44zM42.88 789.74h1.44v1.44h-1.44zM42.88 792.62h1.44v1.44h-1.44zM42.88 794.06h1.44v1.44h-1.44zM42.88 795.50h1.44v1.44h-1.44zM42.88 796.94h1.44v1.44h-1.44zM44.32 786.86h1.44v1.44h-1.44zM44.32 791.18h1.44v1.44h-1.44zM44.32 794.06h1.44v1.44h-1.44zM44.32 795.50h1.44v1.44h-1.44zM44.32 796.94h1.44v1.44h-1.44zM45.76 786.86h1.44v1.44h-1.44zM45.76 788.30h1.44v1.44h-1.44zM45.76 791.18h1.44v1.44h-1.44zM45.76 792.62h1.44v1.44h-1.44zM45.76 796.94h1.44v1.44h-1.44zM47.20 791.18h1.44v1.44h-1.44zM47.20 794.06h1.44v1.44h-1.44zM47.20 795.50h1.44v1.44h-1.44zM48.64 785.42h1.44v1.44h-1.44zM48.64 786.86h1.44v1.44h-1.44zM48.64 788.30h1.44v1.44h-1.44zM48.64 795.50h1.44v1.44h-1.44zM50.08 788.30h1.44v1.44h-1.44zM50.08 792.62h1.44v1.44h-1.44zM50.08 795.50h1.44v1.44h-1.44zM51.52 778.22h1.44v1.44h-1.44zM51.52 779.66h1.44v1.44h-1.44zM51.52 782.54h1.44v1.44h-1.44zM51.52 783.98h1.44v1.44h-1.44zM51.52 785.42h1.44v1.44h-1.44zM51.52 786.86h1.44v1.44h-1.44zM51.52 788.30h1.44v1.44h-1.44zM51.52 791.18h1.44v1.44h-1.44zM51.52 792.62h1.44v1.44h-1.44zM51.52 794.06h1.44v1.44h-1.44zM51.52 796.94h1.44v1.44h-1.44zM51.52 798.38h1.44v1.44h-1.44zM51.52 805.58h1.44v1.44h-1.44zM51.52 807.02h1.44v1.44h-1.44zM51.52 808.46h1.44v1.44h-1.44zM52.96 776.78h1.44v1.44h-1.44zM52.96 778.22h1.44v1.44h-1.44zM52.96 779.66h1.44v1.44h-1.44zM52.96 781.10h1.44v1.44h-1.44zM52.96 782.54h1.44v1.44h-1.44zM52.96 785.42h1.44v1.44h-1.44zM52.96 786.86h1.44v1.44h-1.44zM52.96 788.30h1.44v1.44h-1.44zM52.96 789.74h1.44v1.44h-1.44zM52.96 799.82h1.44v1.44h-1.44zM52.96 807.02h1.44v1.44h-1.44zM52.96 808.46h1.44v1.44h-1.44zM54.40 773.90h1.44v1.44h-1.44zM54.40 776.78h1.44v1.44h-1.44zM54.40 778.22h1.44v1.44h-1.44zM54.40 779.66h1.44v1.44h-1.44zM54.40 781.10h1.44v1.44h-1.44zM54.40 782.54h1.44v1.44h-1.44zM54.40 783.98h1.44v1.44h-1.44zM54.40 785.42h1.44v1.44h-1.44zM54.40 786.86h1.44v1.44h-1.44zM54.40 788.30h1.44v1.44h-1.44zM54.40 789.74h1.44v1.44h-1.44zM54.40 791.18h1.44v1.44h-1.44zM54.40 795.50h1.44v1.44h-1.44zM54.40 796.94h1.44v1.44h-1.44zM54.40 798.38h1.44v1.44h-1.44zM54.40 799.82h1.44v1.44h-1.44zM54.40 801.26h1.44v1.44h-1.44zM54.40 805.58h1.44v1.44h-1.44zM54.40 807.02h1.44v1.44h-1.44zM54.40 808.46h1.44v1.44h-1.44zM55.84 773.90h1.44v1.44h-1.44zM55.84 775.34h1.44v1.44h-1.44zM55.84 776.78h1.44v1.44h-1.44zM55.84 779.66h1.44v1.44h-1.44zM55.84 781.10h1.44v1.44h-1.44zM55.84 785.42h1.44v1.44h-1.44zM55.84 788.30h1.44v1.44h-1.44zM55.84 795.50h1.44v1.44h-1.44zM55.84 796.94h1.44v1.44h-1.44zM55.84 798.38h1.44v1.44h-1.44zM55.84 804.14h1.44v1.44h-1.44zM55.84 805.58h1.44v1.44h-1.44zM57.28 779.66h1.44v1.44h-1.44zM57.28 782.54h1.44v1.44h-1.44zM57.28 783.98h1.44v1.44h-1.44zM57.28 785.42h1.44v1.44h-1.44zM57.28 786.86h1.44v1.44h-1.44zM57.28 788.30h1.44v1.44h-1.44zM57.28 792.62h1.44v1.44h-1.44zM57.28 798.38h1.44v1.44h-1.44zM57.28 799.82h1.44v1.44h-1.44zM57.28 801.26h1.44v1.44h-1.44zM57.28 802.70h1.44v1.44h-1.44zM57.28 804.14h1.44v1.44h-1.44zM58.72 773.90h1.44v1.44h-1.44zM58.72 778.22h1.44v1.44h-1.44zM58.72 785.42h1.44v1.44h-1.44zM58.72 786.86h1.44v1.44h-1.44zM58.72 789.74h1.44v1.44h-1.44zM58.72 794.06h1.44v1.44h-1.44zM58.72 795.50h1.44v1.44h-1.44zM58.72 799.82h1.44v1.44h-1.44zM58.72 801.26h1.44v1.44h-1.44zM58.72 802.70h1.44v1.44h-1.44zM58.72 807.02h1.44v1.44h-1.44zM60.16 776.78h1.44v1.44h-1.44zM60.16 779.66h1.44v1.44h-1.44zM60.16 781.10h1.44v1.44h-1.44zM60.16 788.30h1.44v1.44h-1.44zM60.16 792.62h1.44v1.44h-1.44zM60.16 794.06h1.44v1.44h-1.44zM60.16 795.50h1.44v1.44h-1.44zM60.16 796.94h1.44v1.44h-1.44zM60.16 799.82h1.44v1.44h-1.44zM60.16 801.26h1.44v1.44h-1.44zM60.16 802.70h1.44v1.44h-1.44zM60.16 805.58h1.44v1.44h-1.44zM60.16 807.02h1.44v1.44h-1.44zM61.60 775.34h1.44v1.44h-1.44zM61.60 782.54h1.44v1.44h-1.44zM61.60 783.98h1.44v1.44h-1.44zM61.60 785.42h1.44v1.44h-1.44zM61.60 786.86h1.44v1.44h-1.44zM61.60 789.74h1.44v1.44h-1.44zM61.60 791.18h1.44v1.44h-1.44zM61.60 795.50h1.44v1.44h-1.44zM61.60 801.26h1.44v1.44h-1.44zM61.60 804.14h1.44v1.44h-1.44zM61.60 805.58h1.44v1.44h-1.44zM63.04 778.22h1.44v1.44h-1.44zM63.04 785.42h1.44v1.44h-1.44zM63.04 788.30h1.44v1.44h-1.44zM63.04 795.50h1.44v1.44h-1.44zM63.04 801.26h1.44v1.44h-1.44zM63.04 802.70h1.44v1.44h-1.44zM63.04 804.14h1.44v1.44h-1.44zM63.04 805.58h1.44v1.44h-1.44zM63.04 807.02h1.44v1.44h-1.44zM63.04 808.46h1.44v1.44h-1.44zM64.48 789.74h1.44v1.44h-1.44zM64.48 794.06h1.44v1.44h-1.44zM64.48 798.38h1.44v1.44h-1.44zM64.48 801.26h1.44v1.44h-1.44zM64.48 802.70h1.44v1.44h-1.44zM64.48 807.02h1.44v1.44h-1.44zM64.48 808.46h1.44v1.44h-1.44zM65.92 786.86h1.44v1.44h-1.44zM65.92 788.30h1.44v1.44h-1.44zM65.92 789.74h1.44v1.44h-1.44zM65.92 792.62h1.44v1.44h-1.44zM65.92 795.50h1.44v1.44h-1.44zM65.92 796.94h1.44v1.44h-1.44zM65.92 798.38h1.44v1.44h-1.44zM65.92 802.70h1.44v1.44h-1.44zM65.92 808.46h1.44v1.44h-1.44zM67.36 785.42h1.44v1.44h-1.44zM67.36 786.86h1.44v1.44h-1.44zM67.36 789.74h1.44v1.44h-1.44zM67.36 791.18h1.44v1.44h-1.44zM67.36 792.62h1.44v1.44h-1.44zM67.36 796.94h1.44v1.44h-1.44zM67.36 798.38h1.44v1.44h-1.44zM67.36 804.14h1.44v1.44h-1.44zM67.36 805.58h1.44v1.44h-1.44zM67.36 808.46h1.44v1.44h-1.44zM68.80 785.42h1.44v1.44h-1.44zM68.80 791.18h1.44v1.44h-1.44zM68.80 794.06h1.44v1.44h-1.44zM68.80 796.94h1.44v1.44h-1.44zM68.80 798.38h1.44v1.44h-1.44zM68.80 802.70h1.44v1.44h-1.44zM68.80 804.14h1.44v1.44h-1.44zM68.80 807.02h1.44v1.44h-1.44zM68.80 808.46h1.44v1.44h-1.44zM70.24 785.42h1.44v1.44h-1.44zM70.24 786.86h1.44v1.44h-1.44zM70.24 788.30h1.44v1.44h-1.44zM70.24 789.74h1.44v1.44h-1.44zM70.24 791.18h1.44v1.44h-1.44zM70.24 794.06h1.44v1.44h-1.44zM70.24 796.94h1.44v1.44h-1.44zM70.24 798.38h1.44v1.44h-1.44zM70.24 799.82h1.44v1.44h-1.44zM70.24 801.26h1.44v1.44h-1.44zM70.24 802.70h1.44v1.44h-1.44zM70.24 807.02h1.44v1.44h-1.44zM70.24 808.46h1.44v1.44h-1.44zM71.68 786.86h1.44v1.44h-1.44zM71.68 789.74h1.44v1.44h-1.44zM71.68 791.18h1.44v1.44h-1.44zM71.68 794.06h1.44v1.44h-1.44zM71.68 799.82h1.44v1.44h-1.44zM71.68 805.58h1.44v1.44h-1.44zM71.68 807.02h1.44v1.44h-1.44zM71.68 808.46h1.44v1.44h-1.44zM73.12 785.42h1.44v1.44h-1.44zM73.12 786.86h1.44v1.44h-1.44zM73.12 789.74h1.44v1.44h-1.44zM73.12 791.18h1.44v1.44h-1.44zM73.12 792.62h1.44v1.44h-1.44zM73.12 798.38h1.44v1.44h-1.44zM73.12 799.82h1.44v1.44h-1.44zM73.12 801.26h1.44v1.44h-1.44zM73.12 802.70h1.44v1.44h-1.44zM73.12 804.14h1.44v1.44h-1.44zM73.12 805.58h1.44v1.44h-1.44zM73.12 807.02h1.44v1.44h-1.44zM74.56 788.30h1.44v1.44h-1.44zM74.56 791.18h1.44v1.44h-1.44zM74.56 792.62h1.44v1.44h-1.44zM74.56 794.06h1.44v1.44h-1.44zM74.56 795.50h1.44v1.44h-1.44zM74.56 796.94h1.44v1.44h-1.44zM74.56 799.82h1.44v1.44h-1.44zM74.56 802.70h1.44v1.44h-1.44zM74.56 804.14h1.44v1.44h-1.44zM74.56 805.58h1.44v1.44h-1.44zM74.56 807.02h1.44v1.44h-1.44zM74.56 808.46h1.44v1.44h-1.44z" fill="#111"/>
<rect x="40.00" y="773.90" width="10.08" height="10.08" fill="#111"/>
<rect x="41.44" y="775.34" width="7.20" height="7.20" fill="#fff"/>
<rect x="42.88" y="776.78" width="4.32" height="4.32" fill="#111"/>
<rect x="65.92" y="773.90" width="10.08" height="10.08" fill="#111"/>
<rect x="67.36" y="775.34" width="7.20" height="7.20" fill="#fff"/>
<rect x="68.80" y="776.78" width="4.32" height="4.32" fill="#111"/>
<rect x="40.00" y="799.82" width="10.08" height="10.08" fill="#111"/>
<rect x="41.44" y="801.26" width="7.20" height="7.20" fill="#fff"/>
<rect x="42.88" y="802.70" width="4.32" height="4.32" fill="#111"/>
<rect x="92.8" y="774.9" width="51.7" height="33.4" fill="#0b4ea2"/>
<polygon points="118.50,778.00 118.97,779.35 120.40,779.38 119.26,780.25 119.68,781.62 118.50,780.80 117.32,781.62 117.74,780.25 116.60,779.38 118.03,779.35" fill="#ffdd00"/>
<polygon points="124.30,779.55 124.77,780.91 126.20,780.94 125.06,781.80 125.48,783.17 124.30,782.35 123.12,783.17 123.54,781.80 122.40,780.94 123.83,780.91" fill="#ffdd00"/>
<polygon points="128.55,783.80 129.02,785.15 130.45,785.18 129.31,786.05 129.72,787.42 128.55,786.60 127.37,787.42 127.79,786.05 126.64,785.18 128.08,785.15" fill="#ffdd00"/>
<polygon points="130.10,789.60 130.57,790.95 132.00,790.98 130.86,791.85 131.28,793.22 130.10,792.40 128.92,793.22 129.34,791.85 128.20,790.98 129.63,790.95" fill="#ffdd00"/>
<polygon points="128.55,795.40 129.02,796.75 130.45,796.78 129.31,797.65 129.72,799.02 128.55,798.20 127.37,799.02 127.79,797.65 126.64,796.78 128.08,796.75" fill="#ffdd00"/>
<polygon points="124.30,799.65 124.77,801.00 126.20,801.03 125.06,801.89 125.48,803.26 124.30,802.45 123.12,803.26 123.54,801.89 122.40,801.03 123.83,801.00" fill="#ffdd00"/>
<polygon points="118.50,801.20 118.97,802.55 120.40,802.58 119.26,803.45 119.68,804.82 118.50,804.00 117.32,804.82 117.74,803.45 116.60,802.58 118.03,802.55" fill="#ffdd00"/>
<polygon points="112.70,799.65 113.17,801.00 114.60,801.03 113.46,801.89 113.88,803.26 112.70,802.45 111.52,803.26 111.94,801.89 110.80,801.03 112.23,801.00" fill="#ffdd00"/>
<polygon points="108.45,795.40 108.92,796.75 110.36,796.78 109.21,797.65 109.63,799.02 108.45,798.20 107.28,799.02 107.69,797.65 106.55,796.78 107.98,796.75" fill="#ffdd00"/>
<polygon points="106.90,789.60 107.37,790.95 108.80,790.98 107.66,791.85 108.08,793.22 106.90,792.40 105.72,793.22 106.14,791.85 105.00,790.98 106.43,790.95" fill="#ffdd00"/>
<polygon points="108.45,783.80 108.92,785.15 110.36,785.18 109.21,786.05 109.63,787.42 108.45,786.60 107.28,787.42 107.69,786.05 106.55,785.18 107.98,785.15" fill="#ffdd00"/>
<polygon points="112.70,779.55 113.17,780.91 114.60,780.94 113.46,781.80 113.88,783.17 112.70,782.35 111.52,783.17 111.94,781.80 110.80,780.94 112.23,780.91" fill="#ffdd00"/>
<text x="151.3" y="786.7" font-size="5.6" fill="#000" stroke="#000" stroke-width="0.1" textLength="90.5" lengthAdjust="spacingAndGlyphs">Co-funded by the Rights Equality</text>
<text x="151.3" y="792.5" font-size="5.6" fill="#000" stroke="#000" stroke-width="0.1" textLength="92.7" lengthAdjust="spacingAndGlyphs">and Citizenship (REC) programme</text>
<text x="151.3" y="798.3" font-size="5.6" fill="#000" stroke="#000" stroke-width="0.1" textLength="93.5" lengthAdjust="spacingAndGlyphs">2014-2020 of the European Union.</text>
</g>
</svg>
</body></html>
